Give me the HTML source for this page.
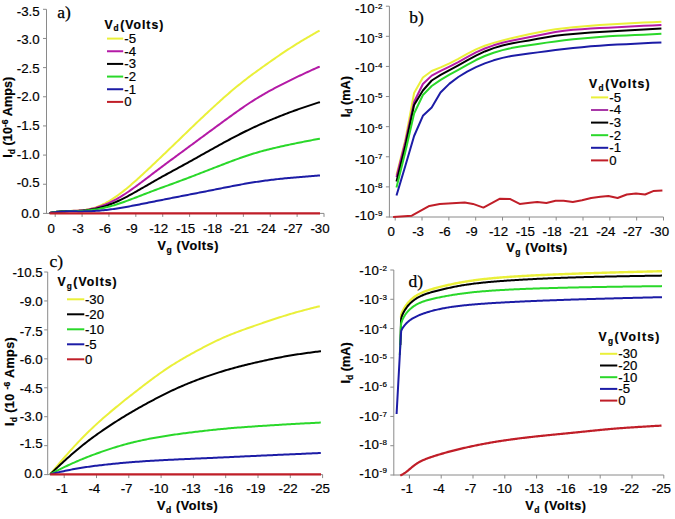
<!DOCTYPE html>
<html><head><meta charset="utf-8"><style>
html,body{margin:0;padding:0;background:#fff;}
svg{display:block;}
</style></head><body>
<svg width="675" height="519" viewBox="0 0 675 519">
<rect width="675" height="519" fill="#fff"/>
<line x1="46.5" y1="9.3" x2="46.5" y2="213.9" stroke="#8a8a8a" stroke-width="1.0"/>
<line x1="43" y1="9.3" x2="46.5" y2="9.3" stroke="#8a8a8a" stroke-width="1.0"/>
<line x1="43" y1="38.46" x2="46.5" y2="38.46" stroke="#8a8a8a" stroke-width="1.0"/>
<line x1="43" y1="67.61" x2="46.5" y2="67.61" stroke="#8a8a8a" stroke-width="1.0"/>
<line x1="43" y1="96.77" x2="46.5" y2="96.77" stroke="#8a8a8a" stroke-width="1.0"/>
<line x1="43" y1="125.93" x2="46.5" y2="125.93" stroke="#8a8a8a" stroke-width="1.0"/>
<line x1="43" y1="155.09" x2="46.5" y2="155.09" stroke="#8a8a8a" stroke-width="1.0"/>
<line x1="43" y1="184.24" x2="46.5" y2="184.24" stroke="#8a8a8a" stroke-width="1.0"/>
<line x1="43" y1="213.4" x2="46.5" y2="213.4" stroke="#8a8a8a" stroke-width="1.0"/>
<line x1="46.5" y1="213.4" x2="324" y2="213.4" stroke="#8a8a8a" stroke-width="1.0"/>
<line x1="55.2" y1="213.4" x2="55.2" y2="216.9" stroke="#8a8a8a" stroke-width="1.0"/>
<line x1="82.08" y1="213.4" x2="82.08" y2="216.9" stroke="#8a8a8a" stroke-width="1.0"/>
<line x1="108.96" y1="213.4" x2="108.96" y2="216.9" stroke="#8a8a8a" stroke-width="1.0"/>
<line x1="135.84" y1="213.4" x2="135.84" y2="216.9" stroke="#8a8a8a" stroke-width="1.0"/>
<line x1="162.72" y1="213.4" x2="162.72" y2="216.9" stroke="#8a8a8a" stroke-width="1.0"/>
<line x1="189.6" y1="213.4" x2="189.6" y2="216.9" stroke="#8a8a8a" stroke-width="1.0"/>
<line x1="216.48" y1="213.4" x2="216.48" y2="216.9" stroke="#8a8a8a" stroke-width="1.0"/>
<line x1="243.36" y1="213.4" x2="243.36" y2="216.9" stroke="#8a8a8a" stroke-width="1.0"/>
<line x1="270.24" y1="213.4" x2="270.24" y2="216.9" stroke="#8a8a8a" stroke-width="1.0"/>
<line x1="297.12" y1="213.4" x2="297.12" y2="216.9" stroke="#8a8a8a" stroke-width="1.0"/>
<line x1="324" y1="213.4" x2="324" y2="216.9" stroke="#8a8a8a" stroke-width="1.0"/>
<text x="39.55" y="16.21" font-size="13.3" text-anchor="end" font-weight="normal" font-family='"Liberation Sans", sans-serif' letter-spacing="-0.05" stroke="#000" stroke-width="0.2">-3.5</text>
<text x="39.55" y="44.21" font-size="13.3" text-anchor="end" font-weight="normal" font-family='"Liberation Sans", sans-serif' letter-spacing="-0.05" stroke="#000" stroke-width="0.2">-3.0</text>
<text x="39.55" y="72.91" font-size="13.3" text-anchor="end" font-weight="normal" font-family='"Liberation Sans", sans-serif' letter-spacing="-0.05" stroke="#000" stroke-width="0.2">-2.5</text>
<text x="39.55" y="100.96" font-size="13.3" text-anchor="end" font-weight="normal" font-family='"Liberation Sans", sans-serif' letter-spacing="-0.05" stroke="#000" stroke-width="0.2">-2.0</text>
<text x="39.55" y="129.76" font-size="13.3" text-anchor="end" font-weight="normal" font-family='"Liberation Sans", sans-serif' letter-spacing="-0.05" stroke="#000" stroke-width="0.2">-1.5</text>
<text x="39.55" y="159.06" font-size="13.3" text-anchor="end" font-weight="normal" font-family='"Liberation Sans", sans-serif' letter-spacing="-0.05" stroke="#000" stroke-width="0.2">-1.0</text>
<text x="39.55" y="186.51" font-size="13.3" text-anchor="end" font-weight="normal" font-family='"Liberation Sans", sans-serif' letter-spacing="-0.05" stroke="#000" stroke-width="0.2">-0.5</text>
<text x="39.55" y="217.86" font-size="13.3" text-anchor="end" font-weight="normal" font-family='"Liberation Sans", sans-serif' letter-spacing="-0.05" stroke="#000" stroke-width="0.2">0.0</text>
<text x="51.18" y="232.6" font-size="13.3" text-anchor="middle" font-weight="normal" font-family='"Liberation Sans", sans-serif' letter-spacing="-0.05" stroke="#000" stroke-width="0.2">0</text>
<text x="78.05" y="232.6" font-size="13.3" text-anchor="middle" font-weight="normal" font-family='"Liberation Sans", sans-serif' letter-spacing="-0.05" stroke="#000" stroke-width="0.2">-3</text>
<text x="104.94" y="232.6" font-size="13.3" text-anchor="middle" font-weight="normal" font-family='"Liberation Sans", sans-serif' letter-spacing="-0.05" stroke="#000" stroke-width="0.2">-6</text>
<text x="131.81" y="232.6" font-size="13.3" text-anchor="middle" font-weight="normal" font-family='"Liberation Sans", sans-serif' letter-spacing="-0.05" stroke="#000" stroke-width="0.2">-9</text>
<text x="158.69" y="232.6" font-size="13.3" text-anchor="middle" font-weight="normal" font-family='"Liberation Sans", sans-serif' letter-spacing="-0.05" stroke="#000" stroke-width="0.2">-12</text>
<text x="185.58" y="232.6" font-size="13.3" text-anchor="middle" font-weight="normal" font-family='"Liberation Sans", sans-serif' letter-spacing="-0.05" stroke="#000" stroke-width="0.2">-15</text>
<text x="212.46" y="232.6" font-size="13.3" text-anchor="middle" font-weight="normal" font-family='"Liberation Sans", sans-serif' letter-spacing="-0.05" stroke="#000" stroke-width="0.2">-18</text>
<text x="239.34" y="232.6" font-size="13.3" text-anchor="middle" font-weight="normal" font-family='"Liberation Sans", sans-serif' letter-spacing="-0.05" stroke="#000" stroke-width="0.2">-21</text>
<text x="266.22" y="232.6" font-size="13.3" text-anchor="middle" font-weight="normal" font-family='"Liberation Sans", sans-serif' letter-spacing="-0.05" stroke="#000" stroke-width="0.2">-24</text>
<text x="293.1" y="232.6" font-size="13.3" text-anchor="middle" font-weight="normal" font-family='"Liberation Sans", sans-serif' letter-spacing="-0.05" stroke="#000" stroke-width="0.2">-27</text>
<text x="319.98" y="232.6" font-size="13.3" text-anchor="middle" font-weight="normal" font-family='"Liberation Sans", sans-serif' letter-spacing="-0.05" stroke="#000" stroke-width="0.2">-30</text>
<text transform="translate(12.2,157.8) rotate(-90)" font-size="12.6" font-weight="bold" letter-spacing="0.05" font-family='"Liberation Sans", sans-serif' stroke="#000" stroke-width="0.2"><tspan dy="0">I</tspan><tspan font-size="8.57" dy="2.7">d</tspan><tspan dy="-2.7"> (10</tspan><tspan font-size="8.57" dy="-4">-6</tspan><tspan dy="4"> Amps)</tspan></text>
<text x="157.6" y="249.6" font-size="12.6" font-weight="bold" letter-spacing="0.6" font-family='"Liberation Sans", sans-serif' stroke="#000" stroke-width="0.2">V<tspan font-size="8.57" dy="3">g</tspan><tspan dy="-3"> (Volts)</tspan></text>
<text x="57.2" y="18.2" font-size="17.5" text-anchor="start" font-weight="normal" font-family='"Liberation Serif", serif' stroke="#000" stroke-width="0.25">a)</text>
<text x="104.4" y="28.6" font-size="12.2" font-weight="bold" letter-spacing="1" font-family='"Liberation Sans", sans-serif' stroke="#000" stroke-width="0.2">V<tspan font-size="8.3" dy="2.6" letter-spacing="0">d</tspan><tspan dy="-2.6" dx="1.6">(Volts)</tspan></text>
<line x1="107" y1="38.6" x2="123.2" y2="38.6" stroke="#eaf03a" stroke-width="2.0"/>
<text x="124.3" y="42.9" font-size="13.2" text-anchor="start" font-weight="normal" font-family='"Liberation Sans", sans-serif' letter-spacing="-0.05" stroke="#000" stroke-width="0.2">-5</text>
<line x1="107" y1="51.26" x2="123.2" y2="51.26" stroke="#b41aa6" stroke-width="2.0"/>
<text x="124.3" y="55.56" font-size="13.2" text-anchor="start" font-weight="normal" font-family='"Liberation Sans", sans-serif' letter-spacing="-0.05" stroke="#000" stroke-width="0.2">-4</text>
<line x1="107" y1="63.92" x2="123.2" y2="63.92" stroke="#000000" stroke-width="2.0"/>
<text x="124.3" y="68.22" font-size="13.2" text-anchor="start" font-weight="normal" font-family='"Liberation Sans", sans-serif' letter-spacing="-0.05" stroke="#000" stroke-width="0.2">-3</text>
<line x1="107" y1="76.58" x2="123.2" y2="76.58" stroke="#2ad82a" stroke-width="2.0"/>
<text x="124.3" y="80.88" font-size="13.2" text-anchor="start" font-weight="normal" font-family='"Liberation Sans", sans-serif' letter-spacing="-0.05" stroke="#000" stroke-width="0.2">-2</text>
<line x1="107" y1="89.24" x2="123.2" y2="89.24" stroke="#1c1ca6" stroke-width="2.0"/>
<text x="124.3" y="93.54" font-size="13.2" text-anchor="start" font-weight="normal" font-family='"Liberation Sans", sans-serif' letter-spacing="-0.05" stroke="#000" stroke-width="0.2">-1</text>
<line x1="107" y1="101.9" x2="123.2" y2="101.9" stroke="#c01e28" stroke-width="2.0"/>
<text x="124.3" y="106.2" font-size="13.2" text-anchor="start" font-weight="normal" font-family='"Liberation Sans", sans-serif' letter-spacing="-0.05" stroke="#000" stroke-width="0.2">0</text>
<polyline points="49.6,213.07 51.1,212.81 52.6,212.55 54.1,212.3 55.6,212.07 57.1,211.85 58.6,211.66 60.1,211.5 61.6,211.37 63.1,211.26 64.6,211.16 66.1,211.08 67.6,211.02 69.1,210.96 70.6,210.9 72.1,210.84 73.6,210.78 75.1,210.72 76.6,210.64 78.1,210.55 79.6,210.44 81.1,210.32 82.6,210.16 84.1,209.98 85.6,209.77 87.1,209.52 88.6,209.24 90.1,208.91 91.6,208.55 93.1,208.14 94.6,207.68 96.1,207.18 97.6,206.63 99.1,206.05 100.6,205.41 102.1,204.74 103.6,204.02 105.1,203.27 106.6,202.47 108.1,201.64 109.6,200.76 111.1,199.85 112.6,198.91 114.1,197.92 115.6,196.9 117.1,195.85 118.6,194.77 120.1,193.66 121.6,192.51 123.1,191.35 124.6,190.15 126.1,188.93 127.6,187.7 129.1,186.44 130.6,185.16 132.1,183.86 133.6,182.55 135.1,181.23 136.6,179.89 138.1,178.54 139.6,177.18 141.1,175.8 142.6,174.42 144.1,173.03 145.6,171.64 147.1,170.24 148.6,168.83 150.1,167.42 151.6,166.01 153.1,164.59 154.6,163.16 156.1,161.74 157.6,160.31 159.1,158.89 160.6,157.46 162.1,156.03 163.6,154.59 165.1,153.16 166.6,151.72 168.1,150.28 169.6,148.84 171.1,147.4 172.6,145.96 174.1,144.51 175.6,143.06 177.1,141.61 178.6,140.16 180.1,138.71 181.6,137.26 183.1,135.81 184.6,134.36 186.1,132.91 187.6,131.46 189.1,130.01 190.6,128.57 192.1,127.13 193.6,125.69 195.1,124.26 196.6,122.83 198.1,121.4 199.6,119.98 201.1,118.56 202.6,117.15 204.1,115.74 205.6,114.34 207.1,112.93 208.6,111.54 210.1,110.14 211.6,108.76 213.1,107.37 214.6,105.99 216.1,104.62 217.6,103.25 219.1,101.89 220.6,100.54 222.1,99.19 223.6,97.86 225.1,96.53 226.6,95.21 228.1,93.91 229.6,92.62 231.1,91.33 232.6,90.06 234.1,88.81 235.6,87.56 237.1,86.33 238.6,85.11 240.1,83.91 241.6,82.71 243.1,81.53 244.6,80.36 246.1,79.2 247.6,78.05 249.1,76.92 250.6,75.79 252.1,74.67 253.6,73.56 255.1,72.46 256.6,71.36 258.1,70.27 259.6,69.19 261.1,68.11 262.6,67.03 264.1,65.96 265.6,64.89 267.1,63.83 268.6,62.77 270.1,61.71 271.6,60.66 273.1,59.61 274.6,58.57 276.1,57.53 277.6,56.49 279.1,55.46 280.6,54.44 282.1,53.43 283.6,52.42 285.1,51.42 286.6,50.43 288.1,49.45 289.6,48.47 291.1,47.5 292.6,46.54 294.1,45.59 295.6,44.65 297.1,43.71 298.6,42.79 300.1,41.87 301.6,40.96 303.1,40.06 304.6,39.16 306.1,38.27 307.6,37.39 309.1,36.52 310.6,35.65 312.1,34.79 313.6,33.93 315.1,33.07 316.6,32.22 318.1,31.36 319.6,30.51" fill="none" stroke="#eaf03a" stroke-width="2.0" stroke-linejoin="round" stroke-linecap="butt" />
<polyline points="49.6,213.07 51.1,212.81 52.6,212.55 54.1,212.3 55.6,212.07 57.1,211.85 58.6,211.67 60.1,211.51 61.6,211.38 63.1,211.27 64.6,211.18 66.1,211.11 67.6,211.05 69.1,210.99 70.6,210.94 72.1,210.89 73.6,210.84 75.1,210.78 76.6,210.71 78.1,210.63 79.6,210.53 81.1,210.41 82.6,210.26 84.1,210.09 85.6,209.89 87.1,209.66 88.6,209.41 90.1,209.13 91.6,208.82 93.1,208.48 94.6,208.11 96.1,207.71 97.6,207.27 99.1,206.81 100.6,206.32 102.1,205.79 103.6,205.23 105.1,204.64 106.6,204.02 108.1,203.37 109.6,202.69 111.1,201.97 112.6,201.22 114.1,200.45 115.6,199.64 117.1,198.8 118.6,197.94 120.1,197.04 121.6,196.13 123.1,195.18 124.6,194.22 126.1,193.24 127.6,192.23 129.1,191.21 130.6,190.17 132.1,189.11 133.6,188.04 135.1,186.96 136.6,185.86 138.1,184.76 139.6,183.64 141.1,182.52 142.6,181.4 144.1,180.26 145.6,179.13 147.1,177.99 148.6,176.85 150.1,175.71 151.6,174.56 153.1,173.42 154.6,172.28 156.1,171.14 157.6,170.01 159.1,168.87 160.6,167.75 162.1,166.62 163.6,165.5 165.1,164.38 166.6,163.26 168.1,162.15 169.6,161.03 171.1,159.92 172.6,158.82 174.1,157.71 175.6,156.6 177.1,155.5 178.6,154.39 180.1,153.29 181.6,152.18 183.1,151.08 184.6,149.97 186.1,148.87 187.6,147.77 189.1,146.66 190.6,145.56 192.1,144.45 193.6,143.34 195.1,142.24 196.6,141.13 198.1,140.02 199.6,138.91 201.1,137.8 202.6,136.7 204.1,135.59 205.6,134.48 207.1,133.38 208.6,132.27 210.1,131.17 211.6,130.07 213.1,128.97 214.6,127.87 216.1,126.77 217.6,125.67 219.1,124.57 220.6,123.47 222.1,122.38 223.6,121.28 225.1,120.18 226.6,119.09 228.1,118 229.6,116.91 231.1,115.82 232.6,114.73 234.1,113.65 235.6,112.58 237.1,111.51 238.6,110.45 240.1,109.39 241.6,108.34 243.1,107.31 244.6,106.28 246.1,105.26 247.6,104.26 249.1,103.27 250.6,102.28 252.1,101.32 253.6,100.36 255.1,99.42 256.6,98.49 258.1,97.57 259.6,96.66 261.1,95.77 262.6,94.89 264.1,94.02 265.6,93.16 267.1,92.32 268.6,91.48 270.1,90.65 271.6,89.83 273.1,89.02 274.6,88.22 276.1,87.42 277.6,86.63 279.1,85.85 280.6,85.07 282.1,84.31 283.6,83.54 285.1,82.79 286.6,82.03 288.1,81.29 289.6,80.55 291.1,79.81 292.6,79.08 294.1,78.36 295.6,77.64 297.1,76.92 298.6,76.21 300.1,75.5 301.6,74.79 303.1,74.09 304.6,73.39 306.1,72.7 307.6,72.01 309.1,71.32 310.6,70.63 312.1,69.95 313.6,69.27 315.1,68.59 316.6,67.91 318.1,67.23 319.6,66.55 319.7,66.5" fill="none" stroke="#b41aa6" stroke-width="2.0" stroke-linejoin="round" stroke-linecap="butt" />
<polyline points="49.6,213.06 51.1,212.79 52.6,212.54 54.1,212.3 55.6,212.07 57.1,211.86 58.6,211.68 60.1,211.54 61.6,211.42 63.1,211.32 64.6,211.25 66.1,211.19 67.6,211.15 69.1,211.12 70.6,211.09 72.1,211.07 73.6,211.04 75.1,211.01 76.6,210.97 78.1,210.92 79.6,210.86 81.1,210.78 82.6,210.67 84.1,210.54 85.6,210.38 87.1,210.2 88.6,210 90.1,209.77 91.6,209.52 93.1,209.24 94.6,208.94 96.1,208.61 97.6,208.26 99.1,207.88 100.6,207.48 102.1,207.06 103.6,206.6 105.1,206.13 106.6,205.63 108.1,205.1 109.6,204.55 111.1,203.98 112.6,203.38 114.1,202.76 115.6,202.12 117.1,201.46 118.6,200.77 120.1,200.06 121.6,199.34 123.1,198.59 124.6,197.84 126.1,197.06 127.6,196.27 129.1,195.47 130.6,194.66 132.1,193.83 133.6,193 135.1,192.15 136.6,191.31 138.1,190.45 139.6,189.59 141.1,188.73 142.6,187.86 144.1,187 145.6,186.13 147.1,185.26 148.6,184.4 150.1,183.53 151.6,182.67 153.1,181.81 154.6,180.95 156.1,180.1 157.6,179.25 159.1,178.41 160.6,177.57 162.1,176.73 163.6,175.9 165.1,175.07 166.6,174.25 168.1,173.42 169.6,172.6 171.1,171.79 172.6,170.97 174.1,170.15 175.6,169.34 177.1,168.52 178.6,167.71 180.1,166.89 181.6,166.07 183.1,165.25 184.6,164.43 186.1,163.6 187.6,162.78 189.1,161.95 190.6,161.12 192.1,160.28 193.6,159.45 195.1,158.61 196.6,157.77 198.1,156.92 199.6,156.08 201.1,155.24 202.6,154.39 204.1,153.55 205.6,152.71 207.1,151.86 208.6,151.02 210.1,150.19 211.6,149.35 213.1,148.52 214.6,147.68 216.1,146.85 217.6,146.02 219.1,145.2 220.6,144.37 222.1,143.55 223.6,142.74 225.1,141.92 226.6,141.11 228.1,140.3 229.6,139.5 231.1,138.7 232.6,137.91 234.1,137.12 235.6,136.33 237.1,135.55 238.6,134.78 240.1,134.01 241.6,133.26 243.1,132.5 244.6,131.76 246.1,131.02 247.6,130.28 249.1,129.56 250.6,128.84 252.1,128.13 253.6,127.43 255.1,126.73 256.6,126.04 258.1,125.36 259.6,124.69 261.1,124.03 262.6,123.37 264.1,122.72 265.6,122.07 267.1,121.43 268.6,120.8 270.1,120.17 271.6,119.55 273.1,118.93 274.6,118.31 276.1,117.7 277.6,117.1 279.1,116.5 280.6,115.9 282.1,115.31 283.6,114.73 285.1,114.15 286.6,113.57 288.1,113 289.6,112.43 291.1,111.87 292.6,111.32 294.1,110.77 295.6,110.23 297.1,109.69 298.6,109.16 300.1,108.64 301.6,108.12 303.1,107.6 304.6,107.09 306.1,106.59 307.6,106.09 309.1,105.59 310.6,105.1 312.1,104.61 313.6,104.12 315.1,103.63 316.6,103.15 318.1,102.66 319.6,102.18 319.9,102.08" fill="none" stroke="#000000" stroke-width="2.0" stroke-linejoin="round" stroke-linecap="butt" />
<polyline points="49.6,213.06 51.1,212.79 52.6,212.54 54.1,212.29 55.6,212.06 57.1,211.85 58.6,211.66 60.1,211.51 61.6,211.39 63.1,211.29 64.6,211.21 66.1,211.15 67.6,211.11 69.1,211.08 70.6,211.06 72.1,211.04 73.6,211.03 75.1,211.01 76.6,210.99 78.1,210.97 79.6,210.93 81.1,210.88 82.6,210.81 84.1,210.72 85.6,210.62 87.1,210.5 88.6,210.36 90.1,210.2 91.6,210.02 93.1,209.83 94.6,209.61 96.1,209.38 97.6,209.13 99.1,208.86 100.6,208.57 102.1,208.26 103.6,207.94 105.1,207.6 106.6,207.24 108.1,206.86 109.6,206.47 111.1,206.06 112.6,205.63 114.1,205.19 115.6,204.73 117.1,204.25 118.6,203.77 120.1,203.27 121.6,202.76 123.1,202.23 124.6,201.7 126.1,201.16 127.6,200.61 129.1,200.06 130.6,199.5 132.1,198.93 133.6,198.36 135.1,197.79 136.6,197.21 138.1,196.63 139.6,196.05 141.1,195.47 142.6,194.89 144.1,194.3 145.6,193.72 147.1,193.15 148.6,192.57 150.1,192 151.6,191.42 153.1,190.86 154.6,190.29 156.1,189.73 157.6,189.17 159.1,188.61 160.6,188.06 162.1,187.51 163.6,186.96 165.1,186.41 166.6,185.87 168.1,185.32 169.6,184.78 171.1,184.23 172.6,183.69 174.1,183.14 175.6,182.59 177.1,182.04 178.6,181.49 180.1,180.93 181.6,180.37 183.1,179.81 184.6,179.25 186.1,178.69 187.6,178.12 189.1,177.55 190.6,176.98 192.1,176.4 193.6,175.83 195.1,175.25 196.6,174.67 198.1,174.09 199.6,173.52 201.1,172.93 202.6,172.35 204.1,171.77 205.6,171.19 207.1,170.61 208.6,170.03 210.1,169.44 211.6,168.86 213.1,168.28 214.6,167.69 216.1,167.11 217.6,166.53 219.1,165.95 220.6,165.36 222.1,164.78 223.6,164.2 225.1,163.63 226.6,163.05 228.1,162.48 229.6,161.91 231.1,161.34 232.6,160.78 234.1,160.22 235.6,159.67 237.1,159.12 238.6,158.58 240.1,158.04 241.6,157.52 243.1,157 244.6,156.48 246.1,155.98 247.6,155.48 249.1,154.99 250.6,154.51 252.1,154.04 253.6,153.57 255.1,153.12 256.6,152.67 258.1,152.24 259.6,151.81 261.1,151.39 262.6,150.98 264.1,150.58 265.6,150.19 267.1,149.8 268.6,149.42 270.1,149.05 271.6,148.68 273.1,148.32 274.6,147.97 276.1,147.62 277.6,147.27 279.1,146.93 280.6,146.59 282.1,146.26 283.6,145.93 285.1,145.6 286.6,145.28 288.1,144.96 289.6,144.64 291.1,144.32 292.6,144.01 294.1,143.7 295.6,143.39 297.1,143.08 298.6,142.77 300.1,142.47 301.6,142.17 303.1,141.87 304.6,141.57 306.1,141.28 307.6,140.99 309.1,140.69 310.6,140.4 312.1,140.11 313.6,139.83 315.1,139.54 316.6,139.25 318.1,138.97 319.6,138.68 319.9,138.62" fill="none" stroke="#2ad82a" stroke-width="2.0" stroke-linejoin="round" stroke-linecap="butt" />
<polyline points="49.6,213.08 51.1,212.84 52.6,212.6 54.1,212.38 55.6,212.17 57.1,211.98 58.6,211.82 60.1,211.68 61.6,211.57 63.1,211.48 64.6,211.42 66.1,211.37 67.6,211.34 69.1,211.33 70.6,211.32 72.1,211.33 73.6,211.34 75.1,211.35 76.6,211.36 78.1,211.38 79.6,211.39 81.1,211.39 82.6,211.38 84.1,211.36 85.6,211.34 87.1,211.3 88.6,211.25 90.1,211.2 91.6,211.13 93.1,211.05 94.6,210.96 96.1,210.86 97.6,210.75 99.1,210.64 100.6,210.51 102.1,210.37 103.6,210.22 105.1,210.06 106.6,209.89 108.1,209.71 109.6,209.52 111.1,209.33 112.6,209.12 114.1,208.91 115.6,208.69 117.1,208.46 118.6,208.23 120.1,207.99 121.6,207.74 123.1,207.48 124.6,207.22 126.1,206.96 127.6,206.69 129.1,206.41 130.6,206.13 132.1,205.85 133.6,205.57 135.1,205.28 136.6,204.99 138.1,204.69 139.6,204.4 141.1,204.1 142.6,203.8 144.1,203.5 145.6,203.2 147.1,202.9 148.6,202.6 150.1,202.3 151.6,202 153.1,201.7 154.6,201.4 156.1,201.1 157.6,200.8 159.1,200.5 160.6,200.2 162.1,199.9 163.6,199.61 165.1,199.31 166.6,199.01 168.1,198.72 169.6,198.43 171.1,198.13 172.6,197.84 174.1,197.55 175.6,197.26 177.1,196.97 178.6,196.68 180.1,196.39 181.6,196.1 183.1,195.81 184.6,195.52 186.1,195.22 187.6,194.93 189.1,194.64 190.6,194.35 192.1,194.06 193.6,193.76 195.1,193.47 196.6,193.18 198.1,192.88 199.6,192.59 201.1,192.29 202.6,192 204.1,191.7 205.6,191.4 207.1,191.11 208.6,190.81 210.1,190.51 211.6,190.21 213.1,189.91 214.6,189.61 216.1,189.32 217.6,189.02 219.1,188.72 220.6,188.42 222.1,188.13 223.6,187.83 225.1,187.53 226.6,187.24 228.1,186.94 229.6,186.65 231.1,186.36 232.6,186.07 234.1,185.78 235.6,185.5 237.1,185.22 238.6,184.94 240.1,184.66 241.6,184.39 243.1,184.12 244.6,183.85 246.1,183.59 247.6,183.33 249.1,183.08 250.6,182.83 252.1,182.59 253.6,182.35 255.1,182.11 256.6,181.88 258.1,181.65 259.6,181.43 261.1,181.22 262.6,181 264.1,180.79 265.6,180.59 267.1,180.39 268.6,180.2 270.1,180.01 271.6,179.83 273.1,179.65 274.6,179.47 276.1,179.3 277.6,179.13 279.1,178.97 280.6,178.81 282.1,178.65 283.6,178.5 285.1,178.35 286.6,178.21 288.1,178.06 289.6,177.92 291.1,177.78 292.6,177.65 294.1,177.52 295.6,177.39 297.1,177.26 298.6,177.13 300.1,177.01 301.6,176.89 303.1,176.77 304.6,176.65 306.1,176.53 307.6,176.41 309.1,176.3 310.6,176.18 312.1,176.07 313.6,175.96 315.1,175.85 316.6,175.73 318.1,175.62 319.6,175.51 320,175.48" fill="none" stroke="#1c1ca6" stroke-width="2.0" stroke-linejoin="round" stroke-linecap="butt" />
<polyline points="49.6,213.3 320,213.3" fill="none" stroke="#c01e28" stroke-width="2.2" stroke-linejoin="round" stroke-linecap="butt" />
<line x1="389.4" y1="6.2" x2="389.4" y2="217.5" stroke="#8a8a8a" stroke-width="1.0"/>
<line x1="385.9" y1="6.2" x2="389.4" y2="6.2" stroke="#8a8a8a" stroke-width="1.0"/>
<line x1="385.9" y1="36.31" x2="389.4" y2="36.31" stroke="#8a8a8a" stroke-width="1.0"/>
<line x1="385.9" y1="66.43" x2="389.4" y2="66.43" stroke="#8a8a8a" stroke-width="1.0"/>
<line x1="385.9" y1="96.54" x2="389.4" y2="96.54" stroke="#8a8a8a" stroke-width="1.0"/>
<line x1="385.9" y1="126.66" x2="389.4" y2="126.66" stroke="#8a8a8a" stroke-width="1.0"/>
<line x1="385.9" y1="156.77" x2="389.4" y2="156.77" stroke="#8a8a8a" stroke-width="1.0"/>
<line x1="385.9" y1="186.89" x2="389.4" y2="186.89" stroke="#8a8a8a" stroke-width="1.0"/>
<line x1="385.9" y1="217" x2="389.4" y2="217" stroke="#8a8a8a" stroke-width="1.0"/>
<line x1="389.4" y1="217" x2="663.5" y2="217" stroke="#8a8a8a" stroke-width="1.0"/>
<line x1="395.2" y1="217" x2="395.2" y2="220.5" stroke="#8a8a8a" stroke-width="1.0"/>
<line x1="422.03" y1="217" x2="422.03" y2="220.5" stroke="#8a8a8a" stroke-width="1.0"/>
<line x1="448.86" y1="217" x2="448.86" y2="220.5" stroke="#8a8a8a" stroke-width="1.0"/>
<line x1="475.69" y1="217" x2="475.69" y2="220.5" stroke="#8a8a8a" stroke-width="1.0"/>
<line x1="502.52" y1="217" x2="502.52" y2="220.5" stroke="#8a8a8a" stroke-width="1.0"/>
<line x1="529.35" y1="217" x2="529.35" y2="220.5" stroke="#8a8a8a" stroke-width="1.0"/>
<line x1="556.18" y1="217" x2="556.18" y2="220.5" stroke="#8a8a8a" stroke-width="1.0"/>
<line x1="583.01" y1="217" x2="583.01" y2="220.5" stroke="#8a8a8a" stroke-width="1.0"/>
<line x1="609.84" y1="217" x2="609.84" y2="220.5" stroke="#8a8a8a" stroke-width="1.0"/>
<line x1="636.67" y1="217" x2="636.67" y2="220.5" stroke="#8a8a8a" stroke-width="1.0"/>
<line x1="663.5" y1="217" x2="663.5" y2="220.5" stroke="#8a8a8a" stroke-width="1.0"/>
<text x="354.9" y="12.86" font-size="13.3" font-family='"Liberation Sans", sans-serif' stroke="#000" stroke-width="0.2"><tspan letter-spacing="0.2">-1</tspan><tspan>0</tspan><tspan font-size="8.0" dy="-4.3" dx="0.5" letter-spacing="0.3">-2</tspan></text>
<text x="354.9" y="42.66" font-size="13.3" font-family='"Liberation Sans", sans-serif' stroke="#000" stroke-width="0.2"><tspan letter-spacing="0.2">-1</tspan><tspan>0</tspan><tspan font-size="8.0" dy="-4.3" dx="0.5" letter-spacing="0.3">-3</tspan></text>
<text x="354.9" y="72.46" font-size="13.3" font-family='"Liberation Sans", sans-serif' stroke="#000" stroke-width="0.2"><tspan letter-spacing="0.2">-1</tspan><tspan>0</tspan><tspan font-size="8.0" dy="-4.3" dx="0.5" letter-spacing="0.3">-4</tspan></text>
<text x="354.9" y="102.56" font-size="13.3" font-family='"Liberation Sans", sans-serif' stroke="#000" stroke-width="0.2"><tspan letter-spacing="0.2">-1</tspan><tspan>0</tspan><tspan font-size="8.0" dy="-4.3" dx="0.5" letter-spacing="0.3">-5</tspan></text>
<text x="354.9" y="133.06" font-size="13.3" font-family='"Liberation Sans", sans-serif' stroke="#000" stroke-width="0.2"><tspan letter-spacing="0.2">-1</tspan><tspan>0</tspan><tspan font-size="8.0" dy="-4.3" dx="0.5" letter-spacing="0.3">-6</tspan></text>
<text x="354.9" y="163.66" font-size="13.3" font-family='"Liberation Sans", sans-serif' stroke="#000" stroke-width="0.2"><tspan letter-spacing="0.2">-1</tspan><tspan>0</tspan><tspan font-size="8.0" dy="-4.3" dx="0.5" letter-spacing="0.3">-7</tspan></text>
<text x="354.9" y="192.66" font-size="13.3" font-family='"Liberation Sans", sans-serif' stroke="#000" stroke-width="0.2"><tspan letter-spacing="0.2">-1</tspan><tspan>0</tspan><tspan font-size="8.0" dy="-4.3" dx="0.5" letter-spacing="0.3">-8</tspan></text>
<text x="354.9" y="219.86" font-size="13.3" font-family='"Liberation Sans", sans-serif' stroke="#000" stroke-width="0.2"><tspan letter-spacing="0.2">-1</tspan><tspan>0</tspan><tspan font-size="8.0" dy="-4.3" dx="0.5" letter-spacing="0.3">-9</tspan></text>
<text x="391.18" y="236.1" font-size="13.3" text-anchor="middle" font-weight="normal" font-family='"Liberation Sans", sans-serif' letter-spacing="-0.05" stroke="#000" stroke-width="0.2">0</text>
<text x="418" y="236.1" font-size="13.3" text-anchor="middle" font-weight="normal" font-family='"Liberation Sans", sans-serif' letter-spacing="-0.05" stroke="#000" stroke-width="0.2">-3</text>
<text x="444.84" y="236.1" font-size="13.3" text-anchor="middle" font-weight="normal" font-family='"Liberation Sans", sans-serif' letter-spacing="-0.05" stroke="#000" stroke-width="0.2">-6</text>
<text x="471.67" y="236.1" font-size="13.3" text-anchor="middle" font-weight="normal" font-family='"Liberation Sans", sans-serif' letter-spacing="-0.05" stroke="#000" stroke-width="0.2">-9</text>
<text x="498.5" y="236.1" font-size="13.3" text-anchor="middle" font-weight="normal" font-family='"Liberation Sans", sans-serif' letter-spacing="-0.05" stroke="#000" stroke-width="0.2">-12</text>
<text x="525.32" y="236.1" font-size="13.3" text-anchor="middle" font-weight="normal" font-family='"Liberation Sans", sans-serif' letter-spacing="-0.05" stroke="#000" stroke-width="0.2">-15</text>
<text x="552.15" y="236.1" font-size="13.3" text-anchor="middle" font-weight="normal" font-family='"Liberation Sans", sans-serif' letter-spacing="-0.05" stroke="#000" stroke-width="0.2">-18</text>
<text x="578.99" y="236.1" font-size="13.3" text-anchor="middle" font-weight="normal" font-family='"Liberation Sans", sans-serif' letter-spacing="-0.05" stroke="#000" stroke-width="0.2">-21</text>
<text x="605.81" y="236.1" font-size="13.3" text-anchor="middle" font-weight="normal" font-family='"Liberation Sans", sans-serif' letter-spacing="-0.05" stroke="#000" stroke-width="0.2">-24</text>
<text x="632.64" y="236.1" font-size="13.3" text-anchor="middle" font-weight="normal" font-family='"Liberation Sans", sans-serif' letter-spacing="-0.05" stroke="#000" stroke-width="0.2">-27</text>
<text x="659.48" y="236.1" font-size="13.3" text-anchor="middle" font-weight="normal" font-family='"Liberation Sans", sans-serif' letter-spacing="-0.05" stroke="#000" stroke-width="0.2">-30</text>
<text transform="translate(349.6,117.3) rotate(-90)" font-size="12.6" font-weight="bold" letter-spacing="0.05" font-family='"Liberation Sans", sans-serif' stroke="#000" stroke-width="0.2"><tspan dy="0">I</tspan><tspan font-size="8.57" dy="2.7">d</tspan><tspan dy="-2.7"> (mA)</tspan></text>
<text x="506.3" y="252.4" font-size="12.6" font-weight="bold" letter-spacing="0.6" font-family='"Liberation Sans", sans-serif' stroke="#000" stroke-width="0.2">V<tspan font-size="8.57" dy="3">g</tspan><tspan dy="-3"> (Volts)</tspan></text>
<text x="409.3" y="22.6" font-size="17.5" text-anchor="start" font-weight="normal" font-family='"Liberation Serif", serif' stroke="#000" stroke-width="0.25">b)</text>
<text x="589.1" y="88.3" font-size="12.2" font-weight="bold" letter-spacing="1.25" font-family='"Liberation Sans", sans-serif' stroke="#000" stroke-width="0.2">V<tspan font-size="8.3" dy="2.6" letter-spacing="0">d</tspan><tspan dy="-2.6" dx="1.6">(Volts)</tspan></text>
<line x1="591" y1="97.4" x2="608.2" y2="97.4" stroke="#eaf03a" stroke-width="2.0"/>
<text x="609.3" y="101.7" font-size="13.2" text-anchor="start" font-weight="normal" font-family='"Liberation Sans", sans-serif' letter-spacing="-0.05" stroke="#000" stroke-width="0.2">-5</text>
<line x1="591" y1="110" x2="608.2" y2="110" stroke="#a838a8" stroke-width="2.0"/>
<text x="609.3" y="114.3" font-size="13.2" text-anchor="start" font-weight="normal" font-family='"Liberation Sans", sans-serif' letter-spacing="-0.05" stroke="#000" stroke-width="0.2">-4</text>
<line x1="591" y1="122.6" x2="608.2" y2="122.6" stroke="#000000" stroke-width="2.0"/>
<text x="609.3" y="126.9" font-size="13.2" text-anchor="start" font-weight="normal" font-family='"Liberation Sans", sans-serif' letter-spacing="-0.05" stroke="#000" stroke-width="0.2">-3</text>
<line x1="591" y1="135.2" x2="608.2" y2="135.2" stroke="#2ad82a" stroke-width="2.0"/>
<text x="609.3" y="139.5" font-size="13.2" text-anchor="start" font-weight="normal" font-family='"Liberation Sans", sans-serif' letter-spacing="-0.05" stroke="#000" stroke-width="0.2">-2</text>
<line x1="591" y1="147.8" x2="608.2" y2="147.8" stroke="#1c1ca6" stroke-width="2.0"/>
<text x="609.3" y="152.1" font-size="13.2" text-anchor="start" font-weight="normal" font-family='"Liberation Sans", sans-serif' letter-spacing="-0.05" stroke="#000" stroke-width="0.2">-1</text>
<line x1="591" y1="160.4" x2="608.2" y2="160.4" stroke="#c01e28" stroke-width="2.0"/>
<text x="609.3" y="164.7" font-size="13.2" text-anchor="start" font-weight="normal" font-family='"Liberation Sans", sans-serif' letter-spacing="-0.05" stroke="#000" stroke-width="0.2">0</text>
<polyline points="396.5,175 405.3,140 414.1,93 422.9,77.5 431.7,71 440.65,67.34 449.48,63.37 458.31,58.85 467.14,53.92 475.97,49.39 484.8,45.76 493.63,42.9 502.46,40.46 511.29,38.25 520.12,36.21 528.95,34.34 537.78,32.51 546.61,30.77 555.44,29.36 564.27,28.25 573.1,27.31 581.93,26.44 590.76,25.68 599.59,25.08 608.42,24.58 617.25,24.05 626.08,23.53 634.91,23.04 643.74,22.58 652.57,22.14 661.4,21.71" fill="none" stroke="#eaf03a" stroke-width="2.0" stroke-linejoin="round" stroke-linecap="butt" />
<polyline points="396.5,177 405.3,142 414.1,102 422.9,84 431.7,75.6 440.65,70.98 449.48,66.66 458.31,62.1 467.14,57.17 475.97,52.45 484.8,48.49 493.63,45.33 502.46,42.79 511.29,40.68 520.12,38.93 528.95,37.34 537.78,35.56 546.61,33.7 555.44,32.09 564.27,30.82 573.1,29.85 581.93,29.15 590.76,28.61 599.59,28.11 608.42,27.63 617.25,27.19 626.08,26.77 634.91,26.33 643.74,25.87 652.57,25.4 661.4,24.92" fill="none" stroke="#b41aa6" stroke-width="2.0" stroke-linejoin="round" stroke-linecap="butt" />
<polyline points="396.5,181.5 405.3,146 414.1,105 422.9,90.5 431.7,80.5 440.65,74.94 449.48,70.08 458.31,65.29 467.14,60.38 475.97,55.59 484.8,51.45 493.63,48.14 502.46,45.52 511.29,43.48 520.12,41.89 528.95,40.45 537.78,38.84 546.61,37.23 555.44,35.86 564.27,34.77 573.1,33.91 581.93,33.2 590.76,32.59 599.59,32.03 608.42,31.51 617.25,31.04 626.08,30.58 634.91,30.1 643.74,29.59 652.57,29.06 661.4,28.52" fill="none" stroke="#000000" stroke-width="2.0" stroke-linejoin="round" stroke-linecap="butt" />
<polyline points="396.5,187.5 405.3,152 414.1,113.5 422.9,95 431.7,86 440.65,79.81 449.48,74.66 458.31,69.76 467.14,64.76 475.97,60.02 484.8,55.99 493.63,52.73 502.46,50.12 511.29,48.1 520.12,46.61 528.95,45.3 537.78,43.95 546.61,42.63 555.44,41.39 564.27,40.25 573.1,39.25 581.93,38.41 590.76,37.67 599.59,36.94 608.42,36.3 617.25,35.85 626.08,35.49 634.91,35.11 643.74,34.68 652.57,34.21 661.4,33.73" fill="none" stroke="#2ad82a" stroke-width="2.0" stroke-linejoin="round" stroke-linecap="butt" />
<polyline points="396.5,195.5 405.3,166 414.1,136 422.9,115.8 431.7,107.6 440.5,92.5 449.48,83.63 458.31,77.01 467.14,71.62 475.97,67.15 484.8,63.42 493.63,60.33 502.46,57.89 511.29,56.05 520.12,54.71 528.95,53.55 537.78,52.37 546.61,51.21 555.44,50.11 564.27,49.07 573.1,48.08 581.93,47.16 590.76,46.34 599.59,45.64 608.42,45.07 617.25,44.59 626.08,44.16 634.91,43.73 643.74,43.3 652.57,42.86 661.4,42.42" fill="none" stroke="#1c1ca6" stroke-width="2.0" stroke-linejoin="round" stroke-linecap="butt" />
<polyline points="393.1,216.9 411.8,215.7 429.4,205.9 439.8,203.9 452.2,203.2 464.7,202.4 473,203.9 483.4,207.6 500,198.7 510.3,199.1 519.7,203.9 530,202.8 537.2,201.9 546.4,203 555.6,200.7 563.6,200.7 572.8,201.9 582,200.3 591.2,198 600.4,196.8 608.4,196.1 617.6,198 626.8,194.5 636,193.4 645.1,194.5 653.2,191.1 662.4,190.6" fill="none" stroke="#c01e28" stroke-width="2.0" stroke-linejoin="round" stroke-linecap="butt" />
<line x1="47.7" y1="272" x2="47.7" y2="475.1" stroke="#8a8a8a" stroke-width="1.0"/>
<line x1="44.2" y1="272" x2="47.7" y2="272" stroke="#8a8a8a" stroke-width="1.0"/>
<line x1="44.2" y1="300.94" x2="47.7" y2="300.94" stroke="#8a8a8a" stroke-width="1.0"/>
<line x1="44.2" y1="329.89" x2="47.7" y2="329.89" stroke="#8a8a8a" stroke-width="1.0"/>
<line x1="44.2" y1="358.83" x2="47.7" y2="358.83" stroke="#8a8a8a" stroke-width="1.0"/>
<line x1="44.2" y1="387.77" x2="47.7" y2="387.77" stroke="#8a8a8a" stroke-width="1.0"/>
<line x1="44.2" y1="416.71" x2="47.7" y2="416.71" stroke="#8a8a8a" stroke-width="1.0"/>
<line x1="44.2" y1="445.66" x2="47.7" y2="445.66" stroke="#8a8a8a" stroke-width="1.0"/>
<line x1="44.2" y1="474.6" x2="47.7" y2="474.6" stroke="#8a8a8a" stroke-width="1.0"/>
<line x1="47.7" y1="474.6" x2="322.6" y2="474.6" stroke="#8a8a8a" stroke-width="1.0"/>
<line x1="64.2" y1="474.6" x2="64.2" y2="478.1" stroke="#8a8a8a" stroke-width="1.0"/>
<line x1="96.5" y1="474.6" x2="96.5" y2="478.1" stroke="#8a8a8a" stroke-width="1.0"/>
<line x1="128.8" y1="474.6" x2="128.8" y2="478.1" stroke="#8a8a8a" stroke-width="1.0"/>
<line x1="161.1" y1="474.6" x2="161.1" y2="478.1" stroke="#8a8a8a" stroke-width="1.0"/>
<line x1="193.4" y1="474.6" x2="193.4" y2="478.1" stroke="#8a8a8a" stroke-width="1.0"/>
<line x1="225.7" y1="474.6" x2="225.7" y2="478.1" stroke="#8a8a8a" stroke-width="1.0"/>
<line x1="258" y1="474.6" x2="258" y2="478.1" stroke="#8a8a8a" stroke-width="1.0"/>
<line x1="290.3" y1="474.6" x2="290.3" y2="478.1" stroke="#8a8a8a" stroke-width="1.0"/>
<line x1="322.6" y1="474.6" x2="322.6" y2="478.1" stroke="#8a8a8a" stroke-width="1.0"/>
<text x="42.55" y="277.36" font-size="13.3" text-anchor="end" font-weight="normal" font-family='"Liberation Sans", sans-serif' letter-spacing="-0.05" stroke="#000" stroke-width="0.2">-10.5</text>
<text x="42.55" y="305.66" font-size="13.3" text-anchor="end" font-weight="normal" font-family='"Liberation Sans", sans-serif' letter-spacing="-0.05" stroke="#000" stroke-width="0.2">-9.0</text>
<text x="42.55" y="335.86" font-size="13.3" text-anchor="end" font-weight="normal" font-family='"Liberation Sans", sans-serif' letter-spacing="-0.05" stroke="#000" stroke-width="0.2">-7.5</text>
<text x="42.55" y="363.96" font-size="13.3" text-anchor="end" font-weight="normal" font-family='"Liberation Sans", sans-serif' letter-spacing="-0.05" stroke="#000" stroke-width="0.2">-6.0</text>
<text x="42.55" y="392.76" font-size="13.3" text-anchor="end" font-weight="normal" font-family='"Liberation Sans", sans-serif' letter-spacing="-0.05" stroke="#000" stroke-width="0.2">-4.5</text>
<text x="42.55" y="421.36" font-size="13.3" text-anchor="end" font-weight="normal" font-family='"Liberation Sans", sans-serif' letter-spacing="-0.05" stroke="#000" stroke-width="0.2">-3.0</text>
<text x="42.55" y="448.46" font-size="13.3" text-anchor="end" font-weight="normal" font-family='"Liberation Sans", sans-serif' letter-spacing="-0.05" stroke="#000" stroke-width="0.2">-1.5</text>
<text x="42.55" y="477.96" font-size="13.3" text-anchor="end" font-weight="normal" font-family='"Liberation Sans", sans-serif' letter-spacing="-0.05" stroke="#000" stroke-width="0.2">0.0</text>
<text x="61.98" y="493.3" font-size="13.3" text-anchor="middle" font-weight="normal" font-family='"Liberation Sans", sans-serif' letter-spacing="-0.05" stroke="#000" stroke-width="0.2">-1</text>
<text x="94.27" y="493.3" font-size="13.3" text-anchor="middle" font-weight="normal" font-family='"Liberation Sans", sans-serif' letter-spacing="-0.05" stroke="#000" stroke-width="0.2">-4</text>
<text x="126.58" y="493.3" font-size="13.3" text-anchor="middle" font-weight="normal" font-family='"Liberation Sans", sans-serif' letter-spacing="-0.05" stroke="#000" stroke-width="0.2">-7</text>
<text x="158.88" y="493.3" font-size="13.3" text-anchor="middle" font-weight="normal" font-family='"Liberation Sans", sans-serif' letter-spacing="-0.05" stroke="#000" stroke-width="0.2">-10</text>
<text x="191.17" y="493.3" font-size="13.3" text-anchor="middle" font-weight="normal" font-family='"Liberation Sans", sans-serif' letter-spacing="-0.05" stroke="#000" stroke-width="0.2">-13</text>
<text x="223.47" y="493.3" font-size="13.3" text-anchor="middle" font-weight="normal" font-family='"Liberation Sans", sans-serif' letter-spacing="-0.05" stroke="#000" stroke-width="0.2">-16</text>
<text x="255.78" y="493.3" font-size="13.3" text-anchor="middle" font-weight="normal" font-family='"Liberation Sans", sans-serif' letter-spacing="-0.05" stroke="#000" stroke-width="0.2">-19</text>
<text x="288.07" y="493.3" font-size="13.3" text-anchor="middle" font-weight="normal" font-family='"Liberation Sans", sans-serif' letter-spacing="-0.05" stroke="#000" stroke-width="0.2">-22</text>
<text x="320.38" y="493.3" font-size="13.3" text-anchor="middle" font-weight="normal" font-family='"Liberation Sans", sans-serif' letter-spacing="-0.05" stroke="#000" stroke-width="0.2">-25</text>
<text transform="translate(13.9,426) rotate(-90)" font-size="12.6" font-weight="bold" letter-spacing="0.35" font-family='"Liberation Sans", sans-serif' stroke="#000" stroke-width="0.2"><tspan dy="0">I</tspan><tspan font-size="8.57" dy="2.7">d</tspan><tspan dy="-2.7"> (10 </tspan><tspan font-size="8.57" dy="-4">-6</tspan><tspan dy="4"> Amps)</tspan></text>
<text x="157" y="510.4" font-size="12.6" font-weight="bold" letter-spacing="0.6" font-family='"Liberation Sans", sans-serif' stroke="#000" stroke-width="0.2">V<tspan font-size="8.57" dy="3">d</tspan><tspan dy="-3"> (Volts)</tspan></text>
<text x="49.5" y="266.8" font-size="17.5" text-anchor="start" font-weight="normal" font-family='"Liberation Serif", serif' stroke="#000" stroke-width="0.25">c)</text>
<text x="57.5" y="286.1" font-size="12.2" font-weight="bold" letter-spacing="1.05" font-family='"Liberation Sans", sans-serif' stroke="#000" stroke-width="0.2">V<tspan font-size="8.3" dy="2.6" letter-spacing="0">g</tspan><tspan dy="-2.6" dx="1.6">(Volts)</tspan></text>
<line x1="67" y1="299.3" x2="84.3" y2="299.3" stroke="#eaf03a" stroke-width="2.0"/>
<text x="85" y="303.6" font-size="13.2" text-anchor="start" font-weight="normal" font-family='"Liberation Sans", sans-serif' letter-spacing="-0.05" stroke="#000" stroke-width="0.2">-30</text>
<line x1="67" y1="314.3" x2="84.3" y2="314.3" stroke="#000000" stroke-width="2.0"/>
<text x="85" y="318.6" font-size="13.2" text-anchor="start" font-weight="normal" font-family='"Liberation Sans", sans-serif' letter-spacing="-0.05" stroke="#000" stroke-width="0.2">-20</text>
<line x1="67" y1="329.3" x2="84.3" y2="329.3" stroke="#2ad82a" stroke-width="2.0"/>
<text x="85" y="333.6" font-size="13.2" text-anchor="start" font-weight="normal" font-family='"Liberation Sans", sans-serif' letter-spacing="-0.05" stroke="#000" stroke-width="0.2">-10</text>
<line x1="67" y1="344.3" x2="84.3" y2="344.3" stroke="#1c1ca6" stroke-width="2.0"/>
<text x="85" y="348.6" font-size="13.2" text-anchor="start" font-weight="normal" font-family='"Liberation Sans", sans-serif' letter-spacing="-0.05" stroke="#000" stroke-width="0.2">-5</text>
<line x1="67" y1="359.3" x2="84.3" y2="359.3" stroke="#c01e28" stroke-width="2.0"/>
<text x="85" y="363.6" font-size="13.2" text-anchor="start" font-weight="normal" font-family='"Liberation Sans", sans-serif' letter-spacing="-0.05" stroke="#000" stroke-width="0.2">0</text>
<polyline points="50.2,474.24 51.7,472.44 53.2,470.65 54.7,468.86 56.2,467.07 57.7,465.29 59.2,463.52 60.7,461.76 62.2,460 63.7,458.26 65.2,456.53 66.7,454.81 68.2,453.1 69.7,451.41 71.2,449.74 72.7,448.08 74.2,446.44 75.7,444.82 77.2,443.22 78.7,441.63 80.2,440.07 81.7,438.52 83.2,436.99 84.7,435.49 86.2,433.99 87.7,432.52 89.2,431.06 90.7,429.62 92.2,428.19 93.7,426.78 95.2,425.39 96.7,424 98.2,422.63 99.7,421.28 101.2,419.94 102.7,418.61 104.2,417.29 105.7,415.99 107.2,414.69 108.7,413.41 110.2,412.13 111.7,410.87 113.2,409.62 114.7,408.37 116.2,407.13 117.7,405.9 119.2,404.67 120.7,403.46 122.2,402.25 123.7,401.04 125.2,399.84 126.7,398.65 128.2,397.46 129.7,396.28 131.2,395.1 132.7,393.92 134.2,392.75 135.7,391.59 137.2,390.42 138.7,389.26 140.2,388.1 141.7,386.95 143.2,385.79 144.7,384.65 146.2,383.5 147.7,382.37 149.2,381.23 150.7,380.11 152.2,378.99 153.7,377.89 155.2,376.79 156.7,375.7 158.2,374.62 159.7,373.55 161.2,372.5 162.7,371.45 164.2,370.42 165.7,369.4 167.2,368.4 168.7,367.41 170.2,366.43 171.7,365.46 173.2,364.51 174.7,363.57 176.2,362.64 177.7,361.73 179.2,360.82 180.7,359.93 182.2,359.05 183.7,358.17 185.2,357.31 186.7,356.45 188.2,355.61 189.7,354.77 191.2,353.94 192.7,353.11 194.2,352.29 195.7,351.48 197.2,350.67 198.7,349.87 200.2,349.07 201.7,348.27 203.2,347.48 204.7,346.7 206.2,345.92 207.7,345.14 209.2,344.38 210.7,343.62 212.2,342.88 213.7,342.14 215.2,341.41 216.7,340.7 218.2,339.99 219.7,339.3 221.2,338.62 222.7,337.95 224.2,337.29 225.7,336.64 227.2,336.01 228.7,335.38 230.2,334.77 231.7,334.16 233.2,333.57 234.7,332.98 236.2,332.41 237.7,331.84 239.2,331.28 240.7,330.72 242.2,330.17 243.7,329.63 245.2,329.09 246.7,328.55 248.2,328.02 249.7,327.49 251.2,326.96 252.7,326.44 254.2,325.92 255.7,325.4 257.2,324.88 258.7,324.36 260.2,323.84 261.7,323.33 263.2,322.81 264.7,322.3 266.2,321.79 267.7,321.28 269.2,320.78 270.7,320.28 272.2,319.77 273.7,319.28 275.2,318.78 276.7,318.29 278.2,317.81 279.7,317.32 281.2,316.84 282.7,316.37 284.2,315.9 285.7,315.44 287.2,314.98 288.7,314.52 290.2,314.07 291.7,313.63 293.2,313.19 294.7,312.76 296.2,312.33 297.7,311.91 299.2,311.5 300.7,311.09 302.2,310.68 303.7,310.28 305.2,309.89 306.7,309.5 308.2,309.11 309.7,308.73 311.2,308.34 312.7,307.97 314.2,307.59 315.7,307.22 317.2,306.84 318.7,306.47 319.8,306.2" fill="none" stroke="#eaf03a" stroke-width="2.0" stroke-linejoin="round" stroke-linecap="butt" />
<polyline points="50.2,474.23 51.7,472.8 53.2,471.37 54.7,469.95 56.2,468.53 57.7,467.12 59.2,465.71 60.7,464.31 62.2,462.93 63.7,461.55 65.2,460.18 66.7,458.83 68.2,457.49 69.7,456.16 71.2,454.84 72.7,453.54 74.2,452.26 75.7,450.98 77.2,449.72 78.7,448.48 80.2,447.24 81.7,446.03 83.2,444.82 84.7,443.64 86.2,442.46 87.7,441.3 89.2,440.15 90.7,439.02 92.2,437.9 93.7,436.8 95.2,435.7 96.7,434.62 98.2,433.55 99.7,432.49 101.2,431.45 102.7,430.41 104.2,429.38 105.7,428.37 107.2,427.36 108.7,426.36 110.2,425.37 111.7,424.39 113.2,423.41 114.7,422.44 116.2,421.48 117.7,420.52 119.2,419.57 120.7,418.63 122.2,417.7 123.7,416.78 125.2,415.86 126.7,414.95 128.2,414.05 129.7,413.16 131.2,412.28 132.7,411.4 134.2,410.53 135.7,409.66 137.2,408.81 138.7,407.96 140.2,407.11 141.7,406.27 143.2,405.44 144.7,404.61 146.2,403.79 147.7,402.97 149.2,402.16 150.7,401.36 152.2,400.56 153.7,399.77 155.2,398.98 156.7,398.19 158.2,397.42 159.7,396.64 161.2,395.88 162.7,395.12 164.2,394.37 165.7,393.62 167.2,392.88 168.7,392.15 170.2,391.43 171.7,390.72 173.2,390.01 174.7,389.31 176.2,388.63 177.7,387.95 179.2,387.28 180.7,386.62 182.2,385.97 183.7,385.32 185.2,384.69 186.7,384.07 188.2,383.45 189.7,382.84 191.2,382.25 192.7,381.66 194.2,381.07 195.7,380.5 197.2,379.93 198.7,379.37 200.2,378.81 201.7,378.26 203.2,377.72 204.7,377.18 206.2,376.65 207.7,376.13 209.2,375.61 210.7,375.1 212.2,374.6 213.7,374.1 215.2,373.6 216.7,373.12 218.2,372.64 219.7,372.16 221.2,371.7 222.7,371.23 224.2,370.78 225.7,370.33 227.2,369.89 228.7,369.46 230.2,369.03 231.7,368.61 233.2,368.19 234.7,367.78 236.2,367.37 237.7,366.98 239.2,366.58 240.7,366.19 242.2,365.81 243.7,365.43 245.2,365.06 246.7,364.69 248.2,364.33 249.7,363.96 251.2,363.61 252.7,363.25 254.2,362.9 255.7,362.56 257.2,362.21 258.7,361.87 260.2,361.54 261.7,361.2 263.2,360.87 264.7,360.54 266.2,360.22 267.7,359.89 269.2,359.57 270.7,359.26 272.2,358.94 273.7,358.63 275.2,358.33 276.7,358.03 278.2,357.73 279.7,357.44 281.2,357.15 282.7,356.87 284.2,356.6 285.7,356.33 287.2,356.06 288.7,355.8 290.2,355.55 291.7,355.3 293.2,355.05 294.7,354.81 296.2,354.58 297.7,354.35 299.2,354.12 300.7,353.9 302.2,353.68 303.7,353.47 305.2,353.26 306.7,353.05 308.2,352.85 309.7,352.65 311.2,352.45 312.7,352.25 314.2,352.05 315.7,351.85 317.2,351.66 318.7,351.46 320.2,351.27 321,351.17" fill="none" stroke="#000000" stroke-width="2.0" stroke-linejoin="round" stroke-linecap="butt" />
<polyline points="50.2,474.23 51.7,473.46 53.2,472.68 54.7,471.91 56.2,471.15 57.7,470.39 59.2,469.64 60.7,468.89 62.2,468.15 63.7,467.42 65.2,466.7 66.7,465.98 68.2,465.28 69.7,464.58 71.2,463.89 72.7,463.21 74.2,462.54 75.7,461.88 77.2,461.23 78.7,460.59 80.2,459.95 81.7,459.33 83.2,458.71 84.7,458.1 86.2,457.5 87.7,456.91 89.2,456.32 90.7,455.75 92.2,455.18 93.7,454.62 95.2,454.07 96.7,453.52 98.2,452.98 99.7,452.45 101.2,451.92 102.7,451.4 104.2,450.88 105.7,450.37 107.2,449.87 108.7,449.37 110.2,448.88 111.7,448.4 113.2,447.92 114.7,447.45 116.2,446.99 117.7,446.54 119.2,446.09 120.7,445.65 122.2,445.22 123.7,444.8 125.2,444.39 126.7,443.98 128.2,443.59 129.7,443.2 131.2,442.82 132.7,442.44 134.2,442.08 135.7,441.72 137.2,441.37 138.7,441.03 140.2,440.7 141.7,440.37 143.2,440.05 144.7,439.73 146.2,439.43 147.7,439.12 149.2,438.83 150.7,438.54 152.2,438.25 153.7,437.98 155.2,437.7 156.7,437.44 158.2,437.17 159.7,436.92 161.2,436.66 162.7,436.42 164.2,436.18 165.7,435.94 167.2,435.7 168.7,435.47 170.2,435.25 171.7,435.03 173.2,434.81 174.7,434.59 176.2,434.38 177.7,434.17 179.2,433.96 180.7,433.76 182.2,433.56 183.7,433.36 185.2,433.16 186.7,432.97 188.2,432.78 189.7,432.58 191.2,432.4 192.7,432.21 194.2,432.03 195.7,431.84 197.2,431.66 198.7,431.49 200.2,431.31 201.7,431.14 203.2,430.96 204.7,430.79 206.2,430.62 207.7,430.46 209.2,430.29 210.7,430.13 212.2,429.97 213.7,429.81 215.2,429.65 216.7,429.5 218.2,429.35 219.7,429.2 221.2,429.05 222.7,428.91 224.2,428.77 225.7,428.63 227.2,428.49 228.7,428.36 230.2,428.23 231.7,428.1 233.2,427.98 234.7,427.85 236.2,427.73 237.7,427.62 239.2,427.5 240.7,427.39 242.2,427.27 243.7,427.16 245.2,427.05 246.7,426.95 248.2,426.84 249.7,426.74 251.2,426.63 252.7,426.53 254.2,426.43 255.7,426.32 257.2,426.22 258.7,426.12 260.2,426.02 261.7,425.92 263.2,425.82 264.7,425.72 266.2,425.63 267.7,425.53 269.2,425.43 270.7,425.34 272.2,425.25 273.7,425.15 275.2,425.06 276.7,424.97 278.2,424.88 279.7,424.79 281.2,424.7 282.7,424.61 284.2,424.52 285.7,424.43 287.2,424.35 288.7,424.26 290.2,424.18 291.7,424.09 293.2,424.01 294.7,423.93 296.2,423.85 297.7,423.77 299.2,423.69 300.7,423.61 302.2,423.53 303.7,423.45 305.2,423.37 306.7,423.29 308.2,423.21 309.7,423.14 311.2,423.06 312.7,422.98 314.2,422.91 315.7,422.83 317.2,422.75 318.7,422.68 320.2,422.6 320.8,422.57" fill="none" stroke="#2ad82a" stroke-width="2.0" stroke-linejoin="round" stroke-linecap="butt" />
<polyline points="50.2,474.25 51.7,473.89 53.2,473.54 54.7,473.18 56.2,472.83 57.7,472.49 59.2,472.14 60.7,471.81 62.2,471.47 63.7,471.15 65.2,470.83 66.7,470.51 68.2,470.21 69.7,469.91 71.2,469.62 72.7,469.33 74.2,469.05 75.7,468.78 77.2,468.52 78.7,468.26 80.2,468.01 81.7,467.77 83.2,467.53 84.7,467.3 86.2,467.08 87.7,466.87 89.2,466.65 90.7,466.45 92.2,466.25 93.7,466.05 95.2,465.86 96.7,465.67 98.2,465.49 99.7,465.31 101.2,465.14 102.7,464.96 104.2,464.79 105.7,464.63 107.2,464.46 108.7,464.3 110.2,464.14 111.7,463.99 113.2,463.84 114.7,463.69 116.2,463.54 117.7,463.39 119.2,463.25 120.7,463.11 122.2,462.98 123.7,462.84 125.2,462.71 126.7,462.59 128.2,462.46 129.7,462.34 131.2,462.22 132.7,462.1 134.2,461.98 135.7,461.87 137.2,461.76 138.7,461.65 140.2,461.54 141.7,461.43 143.2,461.33 144.7,461.23 146.2,461.12 147.7,461.03 149.2,460.93 150.7,460.84 152.2,460.74 153.7,460.65 155.2,460.56 156.7,460.47 158.2,460.39 159.7,460.31 161.2,460.22 162.7,460.14 164.2,460.07 165.7,459.99 167.2,459.92 168.7,459.84 170.2,459.77 171.7,459.7 173.2,459.63 174.7,459.56 176.2,459.49 177.7,459.42 179.2,459.35 180.7,459.29 182.2,459.22 183.7,459.15 185.2,459.09 186.7,459.02 188.2,458.95 189.7,458.89 191.2,458.82 192.7,458.75 194.2,458.69 195.7,458.62 197.2,458.56 198.7,458.49 200.2,458.42 201.7,458.36 203.2,458.29 204.7,458.22 206.2,458.16 207.7,458.09 209.2,458.02 210.7,457.95 212.2,457.89 213.7,457.82 215.2,457.75 216.7,457.68 218.2,457.61 219.7,457.55 221.2,457.48 222.7,457.41 224.2,457.34 225.7,457.27 227.2,457.2 228.7,457.13 230.2,457.06 231.7,456.99 233.2,456.92 234.7,456.85 236.2,456.79 237.7,456.72 239.2,456.65 240.7,456.58 242.2,456.51 243.7,456.44 245.2,456.37 246.7,456.3 248.2,456.23 249.7,456.16 251.2,456.09 252.7,456.02 254.2,455.95 255.7,455.88 257.2,455.82 258.7,455.75 260.2,455.68 261.7,455.61 263.2,455.54 264.7,455.47 266.2,455.41 267.7,455.34 269.2,455.27 270.7,455.2 272.2,455.14 273.7,455.07 275.2,455 276.7,454.94 278.2,454.87 279.7,454.8 281.2,454.74 282.7,454.67 284.2,454.6 285.7,454.54 287.2,454.47 288.7,454.4 290.2,454.34 291.7,454.27 293.2,454.2 294.7,454.14 296.2,454.07 297.7,454.01 299.2,453.94 300.7,453.88 302.2,453.81 303.7,453.74 305.2,453.68 306.7,453.61 308.2,453.55 309.7,453.48 311.2,453.42 312.7,453.35 314.2,453.29 315.7,453.22 317.2,453.15 318.7,453.09 320.2,453.02 320.8,453" fill="none" stroke="#1c1ca6" stroke-width="2.0" stroke-linejoin="round" stroke-linecap="butt" />
<polyline points="50.2,474.4 321,474.4" fill="none" stroke="#c01e28" stroke-width="2.2" stroke-linejoin="round" stroke-linecap="butt" />
<line x1="393.8" y1="270" x2="393.8" y2="475.5" stroke="#8a8a8a" stroke-width="1.0"/>
<line x1="390.3" y1="270" x2="393.8" y2="270" stroke="#8a8a8a" stroke-width="1.0"/>
<line x1="390.3" y1="299.29" x2="393.8" y2="299.29" stroke="#8a8a8a" stroke-width="1.0"/>
<line x1="390.3" y1="328.57" x2="393.8" y2="328.57" stroke="#8a8a8a" stroke-width="1.0"/>
<line x1="390.3" y1="357.86" x2="393.8" y2="357.86" stroke="#8a8a8a" stroke-width="1.0"/>
<line x1="390.3" y1="387.14" x2="393.8" y2="387.14" stroke="#8a8a8a" stroke-width="1.0"/>
<line x1="390.3" y1="416.43" x2="393.8" y2="416.43" stroke="#8a8a8a" stroke-width="1.0"/>
<line x1="390.3" y1="445.71" x2="393.8" y2="445.71" stroke="#8a8a8a" stroke-width="1.0"/>
<line x1="390.3" y1="475" x2="393.8" y2="475" stroke="#8a8a8a" stroke-width="1.0"/>
<line x1="393.8" y1="475" x2="663.8" y2="475" stroke="#8a8a8a" stroke-width="1.0"/>
<line x1="409.4" y1="475" x2="409.4" y2="478.5" stroke="#8a8a8a" stroke-width="1.0"/>
<line x1="441.2" y1="475" x2="441.2" y2="478.5" stroke="#8a8a8a" stroke-width="1.0"/>
<line x1="473" y1="475" x2="473" y2="478.5" stroke="#8a8a8a" stroke-width="1.0"/>
<line x1="504.8" y1="475" x2="504.8" y2="478.5" stroke="#8a8a8a" stroke-width="1.0"/>
<line x1="536.6" y1="475" x2="536.6" y2="478.5" stroke="#8a8a8a" stroke-width="1.0"/>
<line x1="568.4" y1="475" x2="568.4" y2="478.5" stroke="#8a8a8a" stroke-width="1.0"/>
<line x1="600.2" y1="475" x2="600.2" y2="478.5" stroke="#8a8a8a" stroke-width="1.0"/>
<line x1="632" y1="475" x2="632" y2="478.5" stroke="#8a8a8a" stroke-width="1.0"/>
<line x1="663.8" y1="475" x2="663.8" y2="478.5" stroke="#8a8a8a" stroke-width="1.0"/>
<text x="359.3" y="275.16" font-size="13.3" font-family='"Liberation Sans", sans-serif' stroke="#000" stroke-width="0.2"><tspan letter-spacing="0.2">-1</tspan><tspan>0</tspan><tspan font-size="8.0" dy="-4.3" dx="0.5" letter-spacing="0.3">-2</tspan></text>
<text x="359.3" y="304.06" font-size="13.3" font-family='"Liberation Sans", sans-serif' stroke="#000" stroke-width="0.2"><tspan letter-spacing="0.2">-1</tspan><tspan>0</tspan><tspan font-size="8.0" dy="-4.3" dx="0.5" letter-spacing="0.3">-3</tspan></text>
<text x="359.3" y="333.76" font-size="13.3" font-family='"Liberation Sans", sans-serif' stroke="#000" stroke-width="0.2"><tspan letter-spacing="0.2">-1</tspan><tspan>0</tspan><tspan font-size="8.0" dy="-4.3" dx="0.5" letter-spacing="0.3">-4</tspan></text>
<text x="359.3" y="363.26" font-size="13.3" font-family='"Liberation Sans", sans-serif' stroke="#000" stroke-width="0.2"><tspan letter-spacing="0.2">-1</tspan><tspan>0</tspan><tspan font-size="8.0" dy="-4.3" dx="0.5" letter-spacing="0.3">-5</tspan></text>
<text x="359.3" y="391.16" font-size="13.3" font-family='"Liberation Sans", sans-serif' stroke="#000" stroke-width="0.2"><tspan letter-spacing="0.2">-1</tspan><tspan>0</tspan><tspan font-size="8.0" dy="-4.3" dx="0.5" letter-spacing="0.3">-6</tspan></text>
<text x="359.3" y="421.46" font-size="13.3" font-family='"Liberation Sans", sans-serif' stroke="#000" stroke-width="0.2"><tspan letter-spacing="0.2">-1</tspan><tspan>0</tspan><tspan font-size="8.0" dy="-4.3" dx="0.5" letter-spacing="0.3">-7</tspan></text>
<text x="359.3" y="449.26" font-size="13.3" font-family='"Liberation Sans", sans-serif' stroke="#000" stroke-width="0.2"><tspan letter-spacing="0.2">-1</tspan><tspan>0</tspan><tspan font-size="8.0" dy="-4.3" dx="0.5" letter-spacing="0.3">-8</tspan></text>
<text x="359.3" y="477.56" font-size="13.3" font-family='"Liberation Sans", sans-serif' stroke="#000" stroke-width="0.2"><tspan letter-spacing="0.2">-1</tspan><tspan>0</tspan><tspan font-size="8.0" dy="-4.3" dx="0.5" letter-spacing="0.3">-9</tspan></text>
<text x="406.98" y="493.4" font-size="13.3" text-anchor="middle" font-weight="normal" font-family='"Liberation Sans", sans-serif' letter-spacing="-0.05" stroke="#000" stroke-width="0.2">-1</text>
<text x="438.78" y="493.4" font-size="13.3" text-anchor="middle" font-weight="normal" font-family='"Liberation Sans", sans-serif' letter-spacing="-0.05" stroke="#000" stroke-width="0.2">-4</text>
<text x="470.58" y="493.4" font-size="13.3" text-anchor="middle" font-weight="normal" font-family='"Liberation Sans", sans-serif' letter-spacing="-0.05" stroke="#000" stroke-width="0.2">-7</text>
<text x="502.38" y="493.4" font-size="13.3" text-anchor="middle" font-weight="normal" font-family='"Liberation Sans", sans-serif' letter-spacing="-0.05" stroke="#000" stroke-width="0.2">-10</text>
<text x="534.18" y="493.4" font-size="13.3" text-anchor="middle" font-weight="normal" font-family='"Liberation Sans", sans-serif' letter-spacing="-0.05" stroke="#000" stroke-width="0.2">-13</text>
<text x="565.98" y="493.4" font-size="13.3" text-anchor="middle" font-weight="normal" font-family='"Liberation Sans", sans-serif' letter-spacing="-0.05" stroke="#000" stroke-width="0.2">-16</text>
<text x="597.78" y="493.4" font-size="13.3" text-anchor="middle" font-weight="normal" font-family='"Liberation Sans", sans-serif' letter-spacing="-0.05" stroke="#000" stroke-width="0.2">-19</text>
<text x="629.58" y="493.4" font-size="13.3" text-anchor="middle" font-weight="normal" font-family='"Liberation Sans", sans-serif' letter-spacing="-0.05" stroke="#000" stroke-width="0.2">-22</text>
<text x="661.38" y="493.4" font-size="13.3" text-anchor="middle" font-weight="normal" font-family='"Liberation Sans", sans-serif' letter-spacing="-0.05" stroke="#000" stroke-width="0.2">-25</text>
<text transform="translate(350,383.6) rotate(-90)" font-size="12.6" font-weight="bold" letter-spacing="0.05" font-family='"Liberation Sans", sans-serif' stroke="#000" stroke-width="0.2"><tspan dy="0">I</tspan><tspan font-size="8.57" dy="2.7">d</tspan><tspan dy="-2.7"> (mA)</tspan></text>
<text x="525.2" y="510" font-size="12.6" font-weight="bold" letter-spacing="0.6" font-family='"Liberation Sans", sans-serif' stroke="#000" stroke-width="0.2">V<tspan font-size="8.57" dy="3">d</tspan><tspan dy="-3"> (Volts)</tspan></text>
<text x="408.4" y="286.6" font-size="17.5" text-anchor="start" font-weight="normal" font-family='"Liberation Serif", serif' stroke="#000" stroke-width="0.25">d)</text>
<text x="598.5" y="341" font-size="12.2" font-weight="bold" letter-spacing="1.3" font-family='"Liberation Sans", sans-serif' stroke="#000" stroke-width="0.2">V<tspan font-size="8.3" dy="2.6" letter-spacing="0">g</tspan><tspan dy="-2.6" dx="1.6">(Volts)</tspan></text>
<line x1="600" y1="353.8" x2="617.3" y2="353.8" stroke="#eaf03a" stroke-width="2.0"/>
<text x="618.3" y="358.1" font-size="13.2" text-anchor="start" font-weight="normal" font-family='"Liberation Sans", sans-serif' letter-spacing="-0.05" stroke="#000" stroke-width="0.2">-30</text>
<line x1="600" y1="365.5" x2="617.3" y2="365.5" stroke="#000000" stroke-width="2.0"/>
<text x="618.3" y="369.8" font-size="13.2" text-anchor="start" font-weight="normal" font-family='"Liberation Sans", sans-serif' letter-spacing="-0.05" stroke="#000" stroke-width="0.2">-20</text>
<line x1="600" y1="377.2" x2="617.3" y2="377.2" stroke="#2ad82a" stroke-width="2.0"/>
<text x="618.3" y="381.5" font-size="13.2" text-anchor="start" font-weight="normal" font-family='"Liberation Sans", sans-serif' letter-spacing="-0.05" stroke="#000" stroke-width="0.2">-10</text>
<line x1="600" y1="388.9" x2="617.3" y2="388.9" stroke="#1c1ca6" stroke-width="2.0"/>
<text x="618.3" y="393.2" font-size="13.2" text-anchor="start" font-weight="normal" font-family='"Liberation Sans", sans-serif' letter-spacing="-0.05" stroke="#000" stroke-width="0.2">-5</text>
<line x1="600" y1="400.6" x2="617.3" y2="400.6" stroke="#c01e28" stroke-width="2.0"/>
<text x="618.3" y="404.9" font-size="13.2" text-anchor="start" font-weight="normal" font-family='"Liberation Sans", sans-serif' letter-spacing="-0.05" stroke="#000" stroke-width="0.2">0</text>
<polyline points="401,317.5 401.2,314.74 402.2,312.03 403.2,309.99 404.2,308.23 405.2,306.65 406.2,305.19 407.2,303.85 408.2,302.62 409.2,301.5 410.2,300.46 411.2,299.5 412.2,298.62 413.2,297.8 414.2,297.05 415.2,296.34 416.2,295.69 417.2,295.08 418.2,294.5 419.2,293.97 420.2,293.47 421.2,293 422.2,292.55 423.2,292.13 424.2,291.73 425.2,291.34 426.2,290.98 427.2,290.62 428.2,290.29 429.2,289.96 430.2,289.65 431.2,289.34 432.2,289.05 433.2,288.77 434.2,288.49 435.2,288.22 436.2,287.95 437.2,287.69 438.2,287.43 439.2,287.17 440.2,286.92 441.2,286.67 442.2,286.43 443.2,286.18 444.2,285.94 445.2,285.7 446.2,285.47 447.2,285.23 448.2,285 449.2,284.78 450.2,284.56 451.2,284.34 452.2,284.12 453.2,283.91 454.2,283.7 455.2,283.5 456.2,283.3 457.2,283.1 458.2,282.91 459.2,282.72 460.2,282.54 461.2,282.36 462.2,282.18 463.2,282 464.2,281.83 465.2,281.67 466.2,281.5 467.2,281.34 468.2,281.18 469.2,281.03 470.2,280.88 471.2,280.73 472.2,280.59 473.2,280.44 474.2,280.31 475.2,280.17 476.2,280.04 477.2,279.9 478.2,279.78 479.2,279.65 480.2,279.53 481.2,279.41 482.2,279.29 483.2,279.18 484.2,279.06 485.2,278.95 486.2,278.85 487.2,278.74 488.2,278.64 489.2,278.53 490.2,278.44 491.2,278.34 492.2,278.24 493.2,278.15 494.2,278.06 495.2,277.97 496.2,277.88 497.2,277.8 498.2,277.71 499.2,277.63 500.2,277.55 501.2,277.47 502.2,277.39 503.2,277.31 504.2,277.24 505.2,277.16 506.2,277.09 507.2,277.02 508.2,276.95 509.2,276.88 510.2,276.81 511.2,276.74 512.2,276.67 513.2,276.61 514.2,276.54 515.2,276.48 516.2,276.42 517.2,276.36 518.2,276.3 519.2,276.24 520.2,276.18 521.2,276.12 522.2,276.06 523.2,276 524.2,275.95 525.2,275.89 526.2,275.83 527.2,275.78 528.2,275.73 529.2,275.67 530.2,275.62 531.2,275.57 532.2,275.52 533.2,275.46 534.2,275.41 535.2,275.36 536.2,275.31 537.2,275.26 538.2,275.22 539.2,275.17 540.2,275.12 541.2,275.07 542.2,275.03 543.2,274.98 544.2,274.93 545.2,274.89 546.2,274.84 547.2,274.8 548.2,274.76 549.2,274.71 550.2,274.67 551.2,274.63 552.2,274.58 553.2,274.54 554.2,274.5 555.2,274.46 556.2,274.42 557.2,274.38 558.2,274.34 559.2,274.29 560.2,274.26 561.2,274.22 562.2,274.18 563.2,274.14 564.2,274.1 565.2,274.06 566.2,274.02 567.2,273.98 568.2,273.95 569.2,273.91 570.2,273.87 571.2,273.84 572.2,273.8 573.2,273.76 574.2,273.73 575.2,273.69 576.2,273.66 577.2,273.62 578.2,273.59 579.2,273.55 580.2,273.52 581.2,273.48 582.2,273.45 583.2,273.42 584.2,273.38 585.2,273.35 586.2,273.32 587.2,273.28 588.2,273.25 589.2,273.22 590.2,273.19 591.2,273.15 592.2,273.12 593.2,273.09 594.2,273.06 595.2,273.03 596.2,273 597.2,272.96 598.2,272.93 599.2,272.9 600.2,272.87 601.2,272.84 602.2,272.81 603.2,272.78 604.2,272.75 605.2,272.72 606.2,272.69 607.2,272.66 608.2,272.63 609.2,272.6 610.2,272.57 611.2,272.54 612.2,272.51 613.2,272.48 614.2,272.45 615.2,272.43 616.2,272.4 617.2,272.37 618.2,272.34 619.2,272.31 620.2,272.28 621.2,272.26 622.2,272.23 623.2,272.2 624.2,272.17 625.2,272.15 626.2,272.12 627.2,272.09 628.2,272.06 629.2,272.04 630.2,272.01 631.2,271.98 632.2,271.96 633.2,271.93 634.2,271.9 635.2,271.88 636.2,271.85 637.2,271.82 638.2,271.8 639.2,271.77 640.2,271.75 641.2,271.72 642.2,271.7 643.2,271.67 644.2,271.65 645.2,271.62 646.2,271.59 647.2,271.57 648.2,271.54 649.2,271.52 650.2,271.49 651.2,271.47 652.2,271.45 653.2,271.42 654.2,271.4 655.2,271.37 656.2,271.35 657.2,271.32 658.2,271.3 659.2,271.28 660.2,271.25 661.2,271.23 662,271.21" fill="none" stroke="#eaf03a" stroke-width="2.4" stroke-linejoin="round" stroke-linecap="butt" />
<polyline points="400.4,345 401,321 401.2,318.23 402.2,315.26 403.2,313.05 404.2,311.21 405.2,309.57 406.2,308.09 407.2,306.74 408.2,305.5 409.2,304.38 410.2,303.34 411.2,302.39 412.2,301.51 413.2,300.69 414.2,299.93 415.2,299.23 416.2,298.57 417.2,297.96 418.2,297.4 419.2,296.86 420.2,296.37 421.2,295.9 422.2,295.46 423.2,295.04 424.2,294.64 425.2,294.26 426.2,293.9 427.2,293.56 428.2,293.23 429.2,292.92 430.2,292.61 431.2,292.32 432.2,292.03 433.2,291.76 434.2,291.49 435.2,291.23 436.2,290.97 437.2,290.72 438.2,290.47 439.2,290.23 440.2,289.98 441.2,289.74 442.2,289.5 443.2,289.27 444.2,289.03 445.2,288.8 446.2,288.57 447.2,288.34 448.2,288.11 449.2,287.89 450.2,287.67 451.2,287.46 452.2,287.24 453.2,287.04 454.2,286.83 455.2,286.63 456.2,286.44 457.2,286.25 458.2,286.06 459.2,285.88 460.2,285.7 461.2,285.52 462.2,285.35 463.2,285.19 464.2,285.03 465.2,284.87 466.2,284.72 467.2,284.57 468.2,284.42 469.2,284.28 470.2,284.14 471.2,284 472.2,283.87 473.2,283.74 474.2,283.61 475.2,283.49 476.2,283.37 477.2,283.25 478.2,283.14 479.2,283.02 480.2,282.91 481.2,282.81 482.2,282.7 483.2,282.6 484.2,282.5 485.2,282.4 486.2,282.3 487.2,282.21 488.2,282.11 489.2,282.02 490.2,281.93 491.2,281.84 492.2,281.76 493.2,281.67 494.2,281.59 495.2,281.51 496.2,281.43 497.2,281.35 498.2,281.27 499.2,281.19 500.2,281.12 501.2,281.04 502.2,280.97 503.2,280.89 504.2,280.82 505.2,280.75 506.2,280.68 507.2,280.61 508.2,280.54 509.2,280.48 510.2,280.41 511.2,280.35 512.2,280.28 513.2,280.22 514.2,280.15 515.2,280.09 516.2,280.03 517.2,279.97 518.2,279.91 519.2,279.85 520.2,279.79 521.2,279.73 522.2,279.67 523.2,279.61 524.2,279.56 525.2,279.5 526.2,279.45 527.2,279.39 528.2,279.34 529.2,279.28 530.2,279.23 531.2,279.18 532.2,279.13 533.2,279.07 534.2,279.02 535.2,278.97 536.2,278.92 537.2,278.87 538.2,278.83 539.2,278.78 540.2,278.73 541.2,278.68 542.2,278.64 543.2,278.59 544.2,278.55 545.2,278.5 546.2,278.46 547.2,278.41 548.2,278.37 549.2,278.33 550.2,278.28 551.2,278.24 552.2,278.2 553.2,278.16 554.2,278.12 555.2,278.08 556.2,278.04 557.2,278 558.2,277.96 559.2,277.93 560.2,277.89 561.2,277.85 562.2,277.82 563.2,277.78 564.2,277.74 565.2,277.71 566.2,277.67 567.2,277.64 568.2,277.61 569.2,277.57 570.2,277.54 571.2,277.51 572.2,277.48 573.2,277.44 574.2,277.41 575.2,277.38 576.2,277.35 577.2,277.32 578.2,277.29 579.2,277.26 580.2,277.23 581.2,277.2 582.2,277.18 583.2,277.15 584.2,277.12 585.2,277.09 586.2,277.06 587.2,277.04 588.2,277.01 589.2,276.99 590.2,276.96 591.2,276.93 592.2,276.91 593.2,276.88 594.2,276.86 595.2,276.83 596.2,276.81 597.2,276.79 598.2,276.76 599.2,276.74 600.2,276.72 601.2,276.69 602.2,276.67 603.2,276.65 604.2,276.63 605.2,276.6 606.2,276.58 607.2,276.56 608.2,276.54 609.2,276.52 610.2,276.5 611.2,276.48 612.2,276.46 613.2,276.44 614.2,276.42 615.2,276.4 616.2,276.38 617.2,276.36 618.2,276.34 619.2,276.32 620.2,276.3 621.2,276.28 622.2,276.26 623.2,276.24 624.2,276.22 625.2,276.2 626.2,276.19 627.2,276.17 628.2,276.15 629.2,276.13 630.2,276.11 631.2,276.1 632.2,276.08 633.2,276.06 634.2,276.04 635.2,276.03 636.2,276.01 637.2,275.99 638.2,275.98 639.2,275.96 640.2,275.94 641.2,275.93 642.2,275.91 643.2,275.89 644.2,275.88 645.2,275.86 646.2,275.85 647.2,275.83 648.2,275.81 649.2,275.8 650.2,275.78 651.2,275.77 652.2,275.75 653.2,275.74 654.2,275.72 655.2,275.7 656.2,275.69 657.2,275.67 658.2,275.66 659.2,275.64 660.2,275.63 661.2,275.61 662,275.6" fill="none" stroke="#000000" stroke-width="2.0" stroke-linejoin="round" stroke-linecap="butt" />
<polyline points="399.8,355 400.9,327 401.2,323.42 402.2,320.36 403.2,318.15 404.2,316.35 405.2,314.79 406.2,313.4 407.2,312.15 408.2,311.02 409.2,309.99 410.2,309.05 411.2,308.18 412.2,307.37 413.2,306.63 414.2,305.94 415.2,305.3 416.2,304.71 417.2,304.16 418.2,303.64 419.2,303.17 420.2,302.72 421.2,302.3 422.2,301.91 423.2,301.54 424.2,301.19 425.2,300.86 426.2,300.55 427.2,300.25 428.2,299.96 429.2,299.69 430.2,299.43 431.2,299.18 432.2,298.94 433.2,298.7 434.2,298.48 435.2,298.26 436.2,298.04 437.2,297.83 438.2,297.63 439.2,297.42 440.2,297.22 441.2,297.02 442.2,296.83 443.2,296.64 444.2,296.45 445.2,296.26 446.2,296.07 447.2,295.89 448.2,295.71 449.2,295.54 450.2,295.36 451.2,295.19 452.2,295.03 453.2,294.86 454.2,294.7 455.2,294.54 456.2,294.39 457.2,294.24 458.2,294.09 459.2,293.94 460.2,293.8 461.2,293.66 462.2,293.53 463.2,293.39 464.2,293.26 465.2,293.14 466.2,293.01 467.2,292.89 468.2,292.77 469.2,292.66 470.2,292.54 471.2,292.43 472.2,292.33 473.2,292.22 474.2,292.12 475.2,292.02 476.2,291.92 477.2,291.82 478.2,291.73 479.2,291.64 480.2,291.55 481.2,291.46 482.2,291.37 483.2,291.29 484.2,291.21 485.2,291.13 486.2,291.05 487.2,290.97 488.2,290.89 489.2,290.82 490.2,290.75 491.2,290.68 492.2,290.61 493.2,290.54 494.2,290.47 495.2,290.41 496.2,290.34 497.2,290.28 498.2,290.22 499.2,290.16 500.2,290.1 501.2,290.04 502.2,289.99 503.2,289.93 504.2,289.88 505.2,289.82 506.2,289.77 507.2,289.72 508.2,289.66 509.2,289.61 510.2,289.56 511.2,289.52 512.2,289.47 513.2,289.42 514.2,289.37 515.2,289.33 516.2,289.28 517.2,289.24 518.2,289.2 519.2,289.15 520.2,289.11 521.2,289.07 522.2,289.03 523.2,288.99 524.2,288.95 525.2,288.91 526.2,288.87 527.2,288.83 528.2,288.79 529.2,288.75 530.2,288.72 531.2,288.68 532.2,288.64 533.2,288.61 534.2,288.57 535.2,288.54 536.2,288.5 537.2,288.47 538.2,288.44 539.2,288.4 540.2,288.37 541.2,288.34 542.2,288.31 543.2,288.28 544.2,288.25 545.2,288.22 546.2,288.19 547.2,288.16 548.2,288.13 549.2,288.1 550.2,288.07 551.2,288.04 552.2,288.01 553.2,287.98 554.2,287.96 555.2,287.93 556.2,287.9 557.2,287.88 558.2,287.85 559.2,287.82 560.2,287.8 561.2,287.77 562.2,287.75 563.2,287.72 564.2,287.7 565.2,287.68 566.2,287.65 567.2,287.63 568.2,287.61 569.2,287.58 570.2,287.56 571.2,287.54 572.2,287.51 573.2,287.49 574.2,287.47 575.2,287.45 576.2,287.43 577.2,287.41 578.2,287.39 579.2,287.37 580.2,287.35 581.2,287.33 582.2,287.31 583.2,287.29 584.2,287.27 585.2,287.25 586.2,287.23 587.2,287.21 588.2,287.19 589.2,287.17 590.2,287.15 591.2,287.14 592.2,287.12 593.2,287.1 594.2,287.08 595.2,287.06 596.2,287.05 597.2,287.03 598.2,287.01 599.2,286.99 600.2,286.98 601.2,286.96 602.2,286.94 603.2,286.93 604.2,286.91 605.2,286.9 606.2,286.88 607.2,286.86 608.2,286.85 609.2,286.83 610.2,286.82 611.2,286.8 612.2,286.79 613.2,286.77 614.2,286.75 615.2,286.74 616.2,286.72 617.2,286.71 618.2,286.69 619.2,286.68 620.2,286.67 621.2,286.65 622.2,286.64 623.2,286.62 624.2,286.61 625.2,286.59 626.2,286.58 627.2,286.57 628.2,286.55 629.2,286.54 630.2,286.52 631.2,286.51 632.2,286.5 633.2,286.48 634.2,286.47 635.2,286.46 636.2,286.44 637.2,286.43 638.2,286.42 639.2,286.4 640.2,286.39 641.2,286.38 642.2,286.37 643.2,286.35 644.2,286.34 645.2,286.33 646.2,286.31 647.2,286.3 648.2,286.29 649.2,286.28 650.2,286.26 651.2,286.25 652.2,286.24 653.2,286.23 654.2,286.22 655.2,286.2 656.2,286.19 657.2,286.18 658.2,286.17 659.2,286.15 660.2,286.14 661.2,286.13 662,286.12" fill="none" stroke="#2ad82a" stroke-width="2.0" stroke-linejoin="round" stroke-linecap="butt" />
<polyline points="396.6,414 400.9,335 401.2,330.93 402.2,328.79 403.2,327.19 404.2,325.84 405.2,324.64 406.2,323.54 407.2,322.54 408.2,321.63 409.2,320.8 410.2,320.04 411.2,319.34 412.2,318.7 413.2,318.11 414.2,317.56 415.2,317.04 416.2,316.54 417.2,316.07 418.2,315.63 419.2,315.2 420.2,314.79 421.2,314.39 422.2,314.01 423.2,313.64 424.2,313.29 425.2,312.95 426.2,312.62 427.2,312.3 428.2,312 429.2,311.7 430.2,311.41 431.2,311.13 432.2,310.86 433.2,310.59 434.2,310.34 435.2,310.09 436.2,309.85 437.2,309.62 438.2,309.39 439.2,309.17 440.2,308.96 441.2,308.75 442.2,308.54 443.2,308.35 444.2,308.16 445.2,307.97 446.2,307.79 447.2,307.62 448.2,307.45 449.2,307.29 450.2,307.13 451.2,306.98 452.2,306.83 453.2,306.68 454.2,306.54 455.2,306.41 456.2,306.28 457.2,306.15 458.2,306.02 459.2,305.9 460.2,305.79 461.2,305.67 462.2,305.56 463.2,305.45 464.2,305.35 465.2,305.24 466.2,305.14 467.2,305.05 468.2,304.95 469.2,304.86 470.2,304.76 471.2,304.67 472.2,304.59 473.2,304.5 474.2,304.42 475.2,304.33 476.2,304.25 477.2,304.17 478.2,304.09 479.2,304.02 480.2,303.94 481.2,303.87 482.2,303.79 483.2,303.72 484.2,303.65 485.2,303.58 486.2,303.51 487.2,303.44 488.2,303.37 489.2,303.31 490.2,303.24 491.2,303.18 492.2,303.11 493.2,303.05 494.2,302.99 495.2,302.93 496.2,302.87 497.2,302.81 498.2,302.75 499.2,302.69 500.2,302.63 501.2,302.58 502.2,302.52 503.2,302.47 504.2,302.41 505.2,302.36 506.2,302.3 507.2,302.25 508.2,302.2 509.2,302.14 510.2,302.09 511.2,302.04 512.2,301.99 513.2,301.94 514.2,301.89 515.2,301.84 516.2,301.79 517.2,301.74 518.2,301.7 519.2,301.65 520.2,301.6 521.2,301.55 522.2,301.51 523.2,301.46 524.2,301.41 525.2,301.37 526.2,301.32 527.2,301.28 528.2,301.24 529.2,301.19 530.2,301.15 531.2,301.1 532.2,301.06 533.2,301.02 534.2,300.98 535.2,300.94 536.2,300.89 537.2,300.85 538.2,300.81 539.2,300.77 540.2,300.73 541.2,300.69 542.2,300.65 543.2,300.61 544.2,300.57 545.2,300.53 546.2,300.5 547.2,300.46 548.2,300.42 549.2,300.38 550.2,300.35 551.2,300.31 552.2,300.27 553.2,300.23 554.2,300.2 555.2,300.16 556.2,300.13 557.2,300.09 558.2,300.06 559.2,300.02 560.2,299.99 561.2,299.95 562.2,299.92 563.2,299.88 564.2,299.85 565.2,299.82 566.2,299.78 567.2,299.75 568.2,299.72 569.2,299.68 570.2,299.65 571.2,299.62 572.2,299.59 573.2,299.55 574.2,299.52 575.2,299.49 576.2,299.46 577.2,299.43 578.2,299.39 579.2,299.36 580.2,299.33 581.2,299.3 582.2,299.27 583.2,299.24 584.2,299.21 585.2,299.18 586.2,299.15 587.2,299.12 588.2,299.09 589.2,299.06 590.2,299.03 591.2,299 592.2,298.97 593.2,298.94 594.2,298.91 595.2,298.88 596.2,298.85 597.2,298.83 598.2,298.8 599.2,298.77 600.2,298.74 601.2,298.71 602.2,298.68 603.2,298.65 604.2,298.63 605.2,298.6 606.2,298.57 607.2,298.54 608.2,298.51 609.2,298.49 610.2,298.46 611.2,298.43 612.2,298.4 613.2,298.38 614.2,298.35 615.2,298.32 616.2,298.3 617.2,298.27 618.2,298.24 619.2,298.22 620.2,298.19 621.2,298.16 622.2,298.14 623.2,298.11 624.2,298.08 625.2,298.06 626.2,298.03 627.2,298.01 628.2,297.98 629.2,297.95 630.2,297.93 631.2,297.9 632.2,297.88 633.2,297.85 634.2,297.83 635.2,297.8 636.2,297.78 637.2,297.75 638.2,297.73 639.2,297.7 640.2,297.68 641.2,297.65 642.2,297.63 643.2,297.6 644.2,297.58 645.2,297.56 646.2,297.53 647.2,297.51 648.2,297.48 649.2,297.46 650.2,297.44 651.2,297.41 652.2,297.39 653.2,297.37 654.2,297.34 655.2,297.32 656.2,297.3 657.2,297.27 658.2,297.25 659.2,297.23 660.2,297.2 661.2,297.18 662,297.16" fill="none" stroke="#1c1ca6" stroke-width="2.0" stroke-linejoin="round" stroke-linecap="butt" />
<polyline points="400.3,475.6 401.3,475.05 402.3,474.49 403.3,473.9 404.3,473.27 405.3,472.58 406.3,471.85 407.3,471.08 408.3,470.28 409.3,469.45 410.3,468.61 411.3,467.77 412.3,466.94 413.3,466.12 414.3,465.33 415.3,464.59 416.3,463.89 417.3,463.24 418.3,462.63 419.3,462.06 420.3,461.52 421.3,461.02 422.3,460.54 423.3,460.09 424.3,459.65 425.3,459.24 426.3,458.84 427.3,458.45 428.3,458.08 429.3,457.72 430.3,457.37 431.3,457.03 432.3,456.69 433.3,456.37 434.3,456.05 435.3,455.73 436.3,455.42 437.3,455.11 438.3,454.81 439.3,454.5 440.3,454.2 441.3,453.91 442.3,453.61 443.3,453.32 444.3,453.03 445.3,452.74 446.3,452.46 447.3,452.18 448.3,451.91 449.3,451.64 450.3,451.37 451.3,451.11 452.3,450.85 453.3,450.59 454.3,450.34 455.3,450.09 456.3,449.84 457.3,449.59 458.3,449.35 459.3,449.11 460.3,448.87 461.3,448.63 462.3,448.4 463.3,448.17 464.3,447.94 465.3,447.71 466.3,447.48 467.3,447.26 468.3,447.03 469.3,446.81 470.3,446.6 471.3,446.38 472.3,446.17 473.3,445.96 474.3,445.75 475.3,445.54 476.3,445.33 477.3,445.13 478.3,444.93 479.3,444.73 480.3,444.54 481.3,444.35 482.3,444.15 483.3,443.97 484.3,443.78 485.3,443.59 486.3,443.41 487.3,443.23 488.3,443.05 489.3,442.87 490.3,442.7 491.3,442.53 492.3,442.36 493.3,442.19 494.3,442.02 495.3,441.86 496.3,441.69 497.3,441.53 498.3,441.37 499.3,441.21 500.3,441.06 501.3,440.9 502.3,440.75 503.3,440.6 504.3,440.45 505.3,440.3 506.3,440.16 507.3,440.01 508.3,439.87 509.3,439.73 510.3,439.59 511.3,439.45 512.3,439.32 513.3,439.18 514.3,439.05 515.3,438.92 516.3,438.79 517.3,438.66 518.3,438.53 519.3,438.4 520.3,438.28 521.3,438.15 522.3,438.03 523.3,437.91 524.3,437.79 525.3,437.67 526.3,437.55 527.3,437.44 528.3,437.32 529.3,437.2 530.3,437.09 531.3,436.98 532.3,436.87 533.3,436.75 534.3,436.64 535.3,436.53 536.3,436.43 537.3,436.32 538.3,436.21 539.3,436.1 540.3,436 541.3,435.89 542.3,435.79 543.3,435.69 544.3,435.58 545.3,435.48 546.3,435.38 547.3,435.28 548.3,435.18 549.3,435.07 550.3,434.97 551.3,434.87 552.3,434.77 553.3,434.68 554.3,434.58 555.3,434.48 556.3,434.38 557.3,434.28 558.3,434.18 559.3,434.08 560.3,433.99 561.3,433.89 562.3,433.79 563.3,433.69 564.3,433.59 565.3,433.49 566.3,433.4 567.3,433.3 568.3,433.2 569.3,433.1 570.3,433 571.3,432.9 572.3,432.8 573.3,432.7 574.3,432.6 575.3,432.5 576.3,432.4 577.3,432.3 578.3,432.19 579.3,432.09 580.3,431.99 581.3,431.88 582.3,431.78 583.3,431.68 584.3,431.57 585.3,431.47 586.3,431.37 587.3,431.26 588.3,431.16 589.3,431.05 590.3,430.95 591.3,430.85 592.3,430.75 593.3,430.64 594.3,430.54 595.3,430.44 596.3,430.34 597.3,430.24 598.3,430.14 599.3,430.04 600.3,429.94 601.3,429.84 602.3,429.75 603.3,429.65 604.3,429.56 605.3,429.46 606.3,429.37 607.3,429.28 608.3,429.19 609.3,429.1 610.3,429.01 611.3,428.92 612.3,428.84 613.3,428.75 614.3,428.67 615.3,428.59 616.3,428.51 617.3,428.43 618.3,428.35 619.3,428.27 620.3,428.2 621.3,428.12 622.3,428.05 623.3,427.98 624.3,427.9 625.3,427.83 626.3,427.76 627.3,427.69 628.3,427.62 629.3,427.56 630.3,427.49 631.3,427.42 632.3,427.36 633.3,427.29 634.3,427.23 635.3,427.16 636.3,427.1 637.3,427.03 638.3,426.97 639.3,426.91 640.3,426.85 641.3,426.79 642.3,426.73 643.3,426.67 644.3,426.61 645.3,426.55 646.3,426.49 647.3,426.43 648.3,426.37 649.3,426.31 650.3,426.25 651.3,426.19 652.3,426.13 653.3,426.07 654.3,426.02 655.3,425.96 656.3,425.9 657.3,425.84 658.3,425.78 659.3,425.73 660.3,425.67 661.3,425.61 661.5,425.6" fill="none" stroke="#c01e28" stroke-width="2.2" stroke-linejoin="round" stroke-linecap="butt" />
</svg>
</body></html>
